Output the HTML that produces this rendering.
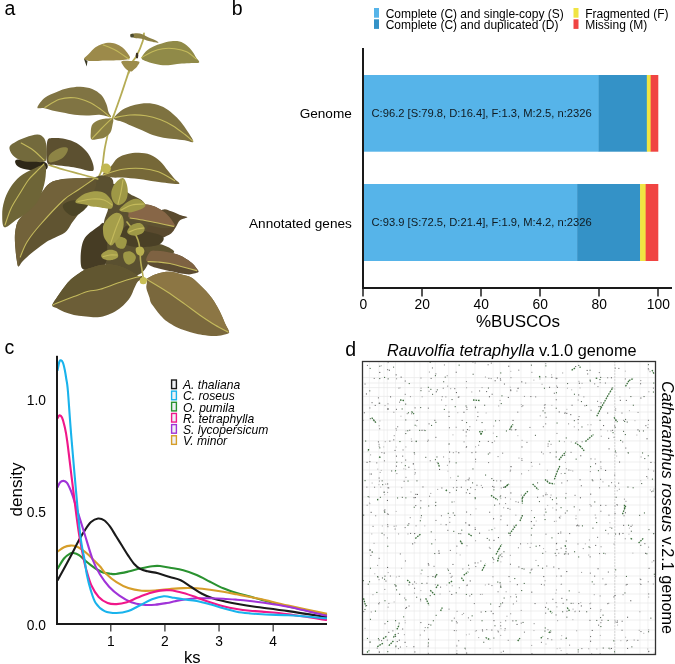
<!DOCTYPE html>
<html><head><meta charset="utf-8"><style>
html,body{margin:0;padding:0;background:#fff;}
svg{display:block;will-change:transform;}
</style></head><body>
<svg width="675" height="664" viewBox="0 0 675 664">
<rect width="675" height="664" fill="#fff"/>
<g id="plant"><g fill="none" stroke="#B5AC55" stroke-width="1.8" stroke-linecap="round"><path d="M144.00,33.30 C143.80,34.58 143.98,37.33 142.80,41.00 C141.62,44.67 138.87,51.47 136.90,55.30 C134.93,59.13 132.38,61.05 131.00,64.00 C129.62,66.95 129.00,71.50 128.60,73.00"/><path d="M130.00,68.00 C129.33,70.00 127.50,75.50 126.00,80.00 C124.50,84.50 123.08,89.00 121.00,95.00 C118.92,101.00 114.75,112.50 113.50,116.00"/><path d="M113.50,116.00 C112.75,118.00 110.00,124.77 109.00,128.00 C108.00,131.23 108.25,131.73 107.50,135.40 C106.75,139.07 105.32,145.10 104.50,150.00 C103.68,154.90 103.18,161.13 102.60,164.80 C102.02,168.47 101.77,169.80 101.00,172.00 C100.23,174.20 98.50,177.00 98.00,178.00"/></g><path d="M100.00,186.00 C102.50,183.67 110.00,182.67 115.00,184.00 C120.00,185.33 125.00,190.67 130.00,194.00 C135.00,197.33 141.33,198.00 145.00,204.00 C148.67,210.00 151.17,221.00 152.00,230.00 C152.83,239.00 152.00,250.67 150.00,258.00 C148.00,265.33 145.00,271.00 140.00,274.00 C135.00,277.00 125.67,277.33 120.00,276.00 C114.33,274.67 108.67,272.00 106.00,266.00 C103.33,260.00 104.33,247.33 104.00,240.00 C103.67,232.67 103.33,227.50 104.00,222.00 C104.67,216.50 108.67,211.00 108.00,207.00 C107.33,203.00 101.33,201.50 100.00,198.00 C98.67,194.50 97.50,188.33 100.00,186.00Z" fill="#5A5030"/><path d="M90.00,181.00 C91.17,179.08 94.33,177.42 97.00,176.50 C99.67,175.58 103.37,174.92 106.00,175.50 C108.63,176.08 111.80,177.58 112.80,180.00 C113.80,182.42 113.47,187.67 112.00,190.00 C110.53,192.33 106.83,193.50 104.00,194.00 C101.17,194.50 97.33,194.00 95.00,193.00 C92.67,192.00 90.83,190.00 90.00,188.00 C89.17,186.00 88.83,182.92 90.00,181.00Z" fill="#5A5030"/><path d="M162.20,209.80 C165.72,208.02 168.13,210.43 171.10,211.30 C174.07,212.17 177.28,214.02 180.00,215.00 C182.72,215.98 187.40,216.33 187.40,217.20 C187.40,218.07 181.97,218.47 180.00,220.20 C178.03,221.93 177.08,225.38 175.60,227.60 C174.12,229.82 173.33,231.77 171.10,233.50 C168.87,235.23 165.40,236.52 162.20,238.00 C159.00,239.48 154.87,242.17 151.90,242.40 C148.93,242.63 144.72,242.80 144.40,239.40 C144.08,236.00 147.03,226.93 150.00,222.00 C152.97,217.07 158.68,211.58 162.20,209.80Z" fill="#5A4A2E"/><path d="M144.40,243.90 C145.78,242.32 152.58,243.08 156.30,243.50 C160.02,243.92 163.73,245.10 166.70,246.40 C169.67,247.70 173.55,249.95 174.10,251.30 C174.65,252.65 172.68,254.05 170.00,254.50 C167.32,254.95 161.67,254.25 158.00,254.00 C154.33,253.75 150.27,254.68 148.00,253.00 C145.73,251.32 143.02,245.48 144.40,243.90Z" fill="#5E5430"/><path d="M126.00,226.00 C129.33,224.33 133.97,228.33 140.00,230.00 C146.03,231.67 158.87,233.67 162.20,236.00 C165.53,238.33 162.87,242.17 160.00,244.00 C157.13,245.83 150.00,246.67 145.00,247.00 C140.00,247.33 134.17,247.17 130.00,246.00 C125.83,244.83 120.67,243.33 120.00,240.00 C119.33,236.67 122.67,227.67 126.00,226.00Z" fill="#4A4026"/><path d="M104.00,223.50 C102.67,221.17 100.60,225.03 99.00,226.00 C97.40,226.97 96.52,227.62 94.40,229.30 C92.28,230.98 88.33,233.62 86.30,236.10 C84.27,238.58 83.15,240.60 82.20,244.20 C81.25,247.80 80.60,253.63 80.60,257.70 C80.60,261.77 80.63,266.55 82.20,268.60 C83.77,270.65 87.03,270.10 90.00,270.00 C92.97,269.90 97.33,269.33 100.00,268.00 C102.67,266.67 104.83,266.67 106.00,262.00 C107.17,257.33 107.33,246.42 107.00,240.00 C106.67,233.58 105.33,225.83 104.00,223.50Z" fill="#463C24"/><path d="M16.00,160.00 C18.00,159.00 25.07,160.08 30.00,160.50 C34.93,160.92 42.93,161.00 45.60,162.50 C48.27,164.00 48.60,168.25 46.00,169.50 C43.40,170.75 34.67,170.50 30.00,170.00 C25.33,169.50 20.33,168.17 18.00,166.50 C15.67,164.83 14.00,161.00 16.00,160.00Z" fill="#2E2818"/><path d="M47.20,141.40 C48.28,137.32 50.72,138.50 53.70,138.10 C56.68,137.70 61.30,138.18 65.10,139.00 C68.90,139.82 72.97,140.97 76.50,143.00 C80.03,145.03 83.72,148.22 86.30,151.20 C88.88,154.18 90.78,157.78 92.00,160.90 C93.22,164.02 94.28,168.27 93.60,169.90 C92.92,171.53 90.47,170.97 87.90,170.70 C85.33,170.43 81.45,168.98 78.20,168.30 C74.95,167.62 72.20,167.15 68.40,166.60 C64.60,166.05 58.93,165.67 55.40,165.00 C51.87,164.33 48.57,166.53 47.20,162.60 C45.83,158.67 46.12,145.48 47.20,141.40Z" fill="#5C5030"/><path d="M94.40,178.20 C91.63,177.08 84.73,178.05 79.50,178.20 C74.27,178.35 67.97,178.27 63.00,179.10 C58.03,179.93 53.30,180.87 49.70,183.20 C46.10,185.53 44.17,189.78 41.40,193.10 C38.63,196.42 36.13,199.50 33.10,203.10 C30.07,206.70 25.78,211.55 23.20,214.70 C20.62,217.85 18.93,219.12 17.60,222.00 C16.27,224.88 15.65,228.88 15.20,232.00 C14.75,235.12 14.85,237.87 14.90,240.70 C14.95,243.53 15.27,246.30 15.50,249.00 C15.73,251.70 15.83,254.00 16.30,256.90 C16.77,259.80 17.35,265.55 18.30,266.40 C19.25,267.25 20.53,263.58 22.00,262.00 C23.47,260.42 25.18,258.65 27.10,256.90 C29.02,255.15 31.23,253.30 33.50,251.50 C35.77,249.70 38.45,247.77 40.70,246.10 C42.95,244.43 44.75,242.87 47.00,241.50 C49.25,240.13 52.03,238.95 54.20,237.90 C56.37,236.85 58.20,236.10 60.00,235.20 C61.80,234.30 63.58,233.62 65.00,232.50 C66.42,231.38 67.37,230.08 68.50,228.50 C69.63,226.92 70.47,224.95 71.80,223.00 C73.13,221.05 74.92,218.83 76.50,216.80 C78.08,214.77 79.60,212.93 81.30,210.80 C83.00,208.67 84.78,206.95 86.70,204.00 C88.62,201.05 91.23,196.28 92.80,193.10 C94.37,189.92 95.83,187.38 96.10,184.90 C96.37,182.42 97.17,179.32 94.40,178.20Z" fill="#605431"/><path d="M94.40,178.20 C91.98,178.07 84.73,178.05 79.50,178.20 C74.27,178.35 67.97,178.27 63.00,179.10 C58.03,179.93 53.30,180.87 49.70,183.20 C46.10,185.53 44.17,189.78 41.40,193.10 C38.63,196.42 36.13,199.50 33.10,203.10 C30.07,206.70 25.78,211.55 23.20,214.70 C20.62,217.85 18.93,219.12 17.60,222.00 C16.27,224.88 15.65,228.88 15.20,232.00 C14.75,235.12 14.85,237.87 14.90,240.70 C14.95,243.53 15.27,246.30 15.50,249.00 C15.73,251.70 15.83,254.00 16.30,256.90 C16.77,259.80 17.63,266.40 18.30,266.40 C18.97,266.40 18.85,260.97 20.30,256.90 C21.75,252.83 23.72,247.32 27.00,242.00 C30.28,236.68 33.88,232.00 40.00,225.00 C46.12,218.00 57.37,205.83 63.70,200.00 C70.03,194.17 72.95,193.50 78.00,190.00 C83.05,186.50 91.27,180.97 94.00,179.00 C96.73,177.03 96.82,178.33 94.40,178.20Z" fill="#72623A"/><path d="M63.00,205.00 C64.00,203.08 68.50,201.17 72.00,200.50 C75.50,199.83 81.25,200.42 84.00,201.00 C86.75,201.58 88.67,202.33 88.50,204.00 C88.33,205.67 85.42,209.00 83.00,211.00 C80.58,213.00 76.83,215.83 74.00,216.00 C71.17,216.17 67.83,213.83 66.00,212.00 C64.17,210.17 62.00,206.92 63.00,205.00Z" fill="#4C4526"/><path d="M44.70,165.00 C46.78,166.25 46.02,172.18 45.60,176.60 C45.18,181.02 43.73,187.08 42.20,191.50 C40.67,195.92 39.02,199.52 36.40,203.10 C33.78,206.68 29.80,210.25 26.50,213.00 C23.20,215.75 20.27,217.22 16.60,219.60 C12.93,221.98 6.90,228.15 4.50,227.30 C2.10,226.45 2.27,218.82 2.20,214.50 C2.13,210.18 2.82,205.78 4.10,201.40 C5.38,197.02 7.27,192.33 9.90,188.20 C12.53,184.07 16.03,179.78 19.90,176.60 C23.77,173.42 28.97,171.03 33.10,169.10 C37.23,167.17 42.62,163.75 44.70,165.00Z" fill="#6E6537"/><path d="M9.80,146.30 C10.75,144.53 13.58,142.90 16.30,141.40 C19.02,139.90 22.57,138.43 26.10,137.30 C29.63,136.17 34.52,134.47 37.50,134.60 C40.48,134.73 42.52,136.15 44.00,138.10 C45.48,140.05 46.00,143.03 46.40,146.30 C46.80,149.57 46.80,155.12 46.40,157.70 C46.00,160.28 46.30,161.12 44.00,161.80 C41.70,162.48 36.13,161.95 32.60,161.80 C29.07,161.65 25.78,161.72 22.80,160.90 C19.82,160.08 16.73,158.38 14.70,156.90 C12.67,155.42 11.42,153.77 10.60,152.00 C9.78,150.23 8.85,148.07 9.80,146.30Z" fill="#736A3C"/><path d="M48.90,156.00 C49.70,154.23 51.53,152.60 53.70,151.20 C55.87,149.80 59.58,148.15 61.90,147.60 C64.22,147.05 66.78,147.03 67.60,147.90 C68.42,148.77 67.75,151.03 66.80,152.80 C65.85,154.57 64.08,157.00 61.90,158.50 C59.72,160.00 55.87,161.25 53.70,161.80 C51.53,162.35 49.70,162.77 48.90,161.80 C48.10,160.83 48.10,157.77 48.90,156.00Z" fill="#8D8445"/><path d="M52.20,305.30 C52.35,303.38 55.48,299.67 57.50,296.60 C59.52,293.53 62.05,289.80 64.30,286.90 C66.55,284.00 68.58,281.45 71.00,279.20 C73.42,276.95 76.38,275.00 78.80,273.40 C81.22,271.80 83.10,270.63 85.50,269.60 C87.90,268.57 90.70,267.97 93.20,267.20 C95.70,266.43 97.68,265.43 100.50,265.00 C103.32,264.57 106.82,264.33 110.10,264.60 C113.38,264.87 117.18,265.68 120.20,266.60 C123.22,267.52 125.68,268.83 128.20,270.10 C130.72,271.37 133.17,272.80 135.30,274.20 C137.43,275.60 140.67,277.17 141.00,278.50 C141.33,279.83 138.42,280.57 137.30,282.20 C136.18,283.83 135.48,285.78 134.30,288.30 C133.12,290.82 132.05,294.45 130.20,297.30 C128.35,300.15 125.72,303.03 123.20,305.40 C120.68,307.77 117.97,309.82 115.10,311.50 C112.23,313.18 108.52,314.58 106.00,315.50 C103.48,316.42 102.13,316.70 100.00,317.00 C97.87,317.30 95.93,317.42 93.20,317.30 C90.47,317.18 86.82,316.70 83.60,316.30 C80.38,315.90 77.12,315.62 73.90,314.90 C70.68,314.18 67.18,313.13 64.30,312.00 C61.42,310.87 58.62,309.22 56.60,308.10 C54.58,306.98 52.05,307.22 52.20,305.30Z" fill="#6C5E37"/><path d="M52.20,305.30 C52.95,303.90 55.48,299.67 57.50,296.60 C59.52,293.53 62.05,289.80 64.30,286.90 C66.55,284.00 68.58,281.45 71.00,279.20 C73.42,276.95 76.38,275.00 78.80,273.40 C81.22,271.80 83.10,270.63 85.50,269.60 C87.90,268.57 90.70,267.97 93.20,267.20 C95.70,266.43 97.68,265.43 100.50,265.00 C103.32,264.57 106.82,264.33 110.10,264.60 C113.38,264.87 117.18,265.68 120.20,266.60 C123.22,267.52 125.68,268.83 128.20,270.10 C130.72,271.37 133.17,272.80 135.30,274.20 C137.43,275.60 140.17,278.17 141.00,278.50 C141.83,278.83 143.77,275.58 140.30,276.20 C136.83,276.82 126.92,280.02 120.20,282.20 C113.48,284.38 105.30,287.78 100.00,289.30 C94.70,290.82 92.75,290.08 88.40,291.30 C84.05,292.52 79.20,294.60 73.90,296.60 C68.60,298.60 60.08,301.90 56.60,303.30 C53.12,304.70 53.73,304.67 53.00,305.00 C52.27,305.33 51.45,306.70 52.20,305.30Z" fill="#615630"/><path d="M146.30,258.70 C146.73,256.57 148.82,252.62 150.60,251.30 C152.38,249.98 154.87,250.80 157.00,250.80 C159.13,250.80 161.07,250.97 163.40,251.30 C165.73,251.63 168.43,252.17 171.00,252.80 C173.57,253.43 176.38,254.15 178.80,255.10 C181.22,256.05 183.37,257.22 185.50,258.50 C187.63,259.78 189.93,261.38 191.60,262.80 C193.27,264.22 194.33,265.50 195.50,267.00 C196.67,268.50 198.85,270.72 198.60,271.80 C198.35,272.88 195.60,273.07 194.00,273.50 C192.40,273.93 191.17,274.40 189.00,274.40 C186.83,274.40 183.57,273.93 181.00,273.50 C178.43,273.07 176.27,272.38 173.60,271.80 C170.93,271.22 167.77,270.63 165.00,270.00 C162.23,269.37 159.25,268.63 157.00,268.00 C154.75,267.37 153.00,266.85 151.50,266.20 C150.00,265.55 148.87,265.35 148.00,264.10 C147.13,262.85 145.87,260.83 146.30,258.70Z" fill="#5C4C32"/><path d="M146.30,258.70 C146.73,256.98 148.82,252.62 150.60,251.30 C152.38,249.98 154.87,250.80 157.00,250.80 C159.13,250.80 161.07,250.97 163.40,251.30 C165.73,251.63 168.43,252.17 171.00,252.80 C173.57,253.43 176.38,254.15 178.80,255.10 C181.22,256.05 183.37,257.22 185.50,258.50 C187.63,259.78 189.93,261.38 191.60,262.80 C193.27,264.22 194.33,265.50 195.50,267.00 C196.67,268.50 198.40,271.20 198.60,271.80 C198.80,272.40 198.97,271.32 196.70,270.60 C194.43,269.88 189.45,268.68 185.00,267.50 C180.55,266.32 174.50,264.42 170.00,263.50 C165.50,262.58 161.67,262.32 158.00,262.00 C154.33,261.68 149.95,262.15 148.00,261.60 C146.05,261.05 145.87,260.42 146.30,258.70Z" fill="#7E6242"/><path d="M146.50,279.00 C147.83,277.75 152.02,275.67 155.00,274.50 C157.98,273.33 161.57,272.42 164.40,272.00 C167.23,271.58 169.40,271.67 172.00,272.00 C174.60,272.33 176.78,273.10 180.00,274.00 C183.22,274.90 188.10,275.70 191.30,277.40 C194.50,279.10 196.75,281.93 199.20,284.20 C201.65,286.47 203.93,288.73 206.00,291.00 C208.07,293.27 209.72,295.17 211.60,297.80 C213.48,300.43 215.60,303.80 217.30,306.80 C219.00,309.80 220.48,312.98 221.80,315.80 C223.12,318.62 223.98,320.97 225.20,323.70 C226.42,326.43 229.48,330.32 229.10,332.20 C228.72,334.08 225.43,334.35 222.90,335.00 C220.37,335.65 217.28,336.10 213.90,336.10 C210.52,336.10 205.88,335.47 202.60,335.00 C199.32,334.53 197.10,334.03 194.20,333.30 C191.30,332.57 188.22,331.65 185.20,330.60 C182.18,329.55 179.12,328.50 176.10,327.00 C173.08,325.50 169.70,323.52 167.10,321.60 C164.50,319.68 162.52,317.68 160.50,315.50 C158.48,313.32 156.62,310.65 155.00,308.50 C153.38,306.35 151.73,304.47 150.80,302.60 C149.87,300.73 150.13,299.68 149.40,297.30 C148.67,294.92 146.80,290.85 146.40,288.30 C146.00,285.75 146.98,283.55 147.00,282.00 C147.02,280.45 145.17,280.25 146.50,279.00Z" fill="#7A683D"/><path d="M146.50,279.00 C147.95,278.23 152.02,275.67 155.00,274.50 C157.98,273.33 161.57,272.42 164.40,272.00 C167.23,271.58 169.40,271.67 172.00,272.00 C174.60,272.33 176.78,273.10 180.00,274.00 C183.22,274.90 188.10,275.70 191.30,277.40 C194.50,279.10 196.75,281.93 199.20,284.20 C201.65,286.47 203.93,288.73 206.00,291.00 C208.07,293.27 209.72,295.17 211.60,297.80 C213.48,300.43 215.60,303.80 217.30,306.80 C219.00,309.80 220.48,312.98 221.80,315.80 C223.12,318.62 223.98,320.97 225.20,323.70 C226.42,326.43 228.63,330.82 229.10,332.20 C229.57,333.58 230.35,333.20 228.00,332.00 C225.65,330.80 219.67,327.80 215.00,325.00 C210.33,322.20 204.97,318.63 200.00,315.20 C195.03,311.77 190.68,308.32 185.20,304.40 C179.72,300.48 173.58,295.92 167.10,291.70 C160.62,287.48 149.73,281.22 146.30,279.10 C142.87,276.98 145.05,279.77 146.50,279.00Z" fill="#8C7644"/><path d="M130.00,209.00 C131.67,207.58 135.70,206.23 138.50,205.50 C141.30,204.77 144.38,204.52 146.80,204.60 C149.22,204.68 150.87,205.27 153.00,206.00 C155.13,206.73 157.60,207.92 159.60,209.00 C161.60,210.08 163.30,211.10 165.00,212.50 C166.70,213.90 168.47,215.82 169.80,217.40 C171.13,218.98 172.13,220.62 173.00,222.00 C173.87,223.38 174.90,224.87 175.00,225.70 C175.10,226.53 175.53,226.57 173.60,227.00 C171.67,227.43 167.23,228.52 163.40,228.30 C159.57,228.08 154.87,226.77 150.60,225.70 C146.33,224.63 141.23,222.97 137.80,221.90 C134.37,220.83 131.55,220.62 130.00,219.30 C128.45,217.98 128.50,215.72 128.50,214.00 C128.50,212.28 128.33,210.42 130.00,209.00Z" fill="#5E5232"/><path d="M130.00,209.00 C131.67,207.58 135.70,206.23 138.50,205.50 C141.30,204.77 144.38,204.52 146.80,204.60 C149.22,204.68 150.87,205.27 153.00,206.00 C155.13,206.73 157.60,207.92 159.60,209.00 C161.60,210.08 163.30,211.10 165.00,212.50 C166.70,213.90 168.47,215.82 169.80,217.40 C171.13,218.98 172.13,220.62 173.00,222.00 C173.87,223.38 174.90,224.97 175.00,225.70 C175.10,226.43 176.10,226.77 173.60,226.40 C171.10,226.03 164.77,224.48 160.00,223.50 C155.23,222.52 149.98,221.42 145.00,220.50 C140.02,219.58 132.85,219.08 130.10,218.00 C127.35,216.92 128.52,215.50 128.50,214.00 C128.48,212.50 128.33,210.42 130.00,209.00Z" fill="#876647"/><path d="M103.00,175.00 C102.03,173.75 105.63,171.48 107.00,170.00 C108.37,168.52 109.42,168.12 111.20,166.10 C112.98,164.08 114.98,159.93 117.70,157.90 C120.42,155.87 123.97,154.77 127.50,153.90 C131.03,153.03 135.10,152.57 138.90,152.70 C142.70,152.83 146.77,153.28 150.30,154.70 C153.83,156.12 157.12,158.48 160.10,161.20 C163.08,163.92 165.77,168.02 168.20,171.00 C170.63,173.98 172.85,176.98 174.70,179.10 C176.55,181.22 180.38,183.02 179.30,183.70 C178.22,184.38 172.22,183.55 168.20,183.20 C164.18,182.85 160.08,182.28 155.20,181.60 C150.32,180.92 144.33,179.78 138.90,179.10 C133.47,178.42 126.95,177.77 122.60,177.50 C118.25,177.23 116.07,177.92 112.80,177.50 C109.53,177.08 103.97,176.25 103.00,175.00Z" fill="#766838"/><path d="M37.40,107.40 C37.65,105.68 41.58,100.38 44.80,97.80 C48.02,95.22 52.75,93.52 56.70,91.90 C60.65,90.28 64.55,88.97 68.50,88.10 C72.45,87.23 76.45,86.57 80.40,86.70 C84.35,86.83 88.75,87.55 92.20,88.90 C95.65,90.25 98.75,92.33 101.10,94.80 C103.45,97.27 105.07,100.85 106.30,103.70 C107.53,106.55 107.77,109.68 108.50,111.90 C109.23,114.12 112.18,116.52 110.70,117.00 C109.22,117.48 103.67,115.03 99.60,114.80 C95.53,114.57 90.50,115.60 86.30,115.60 C82.10,115.60 78.35,115.30 74.40,114.80 C70.45,114.30 66.30,113.33 62.60,112.60 C58.90,111.87 55.42,111.15 52.20,110.40 C48.98,109.65 45.77,108.60 43.30,108.10 C40.83,107.60 37.15,109.12 37.40,107.40Z" fill="#807443"/><path d="M114.00,117.70 C114.90,116.25 118.03,112.90 120.70,111.00 C123.37,109.10 126.67,107.52 130.00,106.30 C133.33,105.08 136.92,104.13 140.70,103.70 C144.48,103.27 148.93,103.15 152.70,103.70 C156.47,104.25 159.97,105.33 163.30,107.00 C166.63,108.67 169.80,111.25 172.70,113.70 C175.60,116.15 178.27,118.82 180.70,121.70 C183.13,124.58 185.20,127.67 187.30,131.00 C189.40,134.33 193.73,140.15 193.30,141.70 C192.87,143.25 187.92,140.75 184.70,140.30 C181.48,139.85 177.57,139.43 174.00,139.00 C170.43,138.57 166.85,138.37 163.30,137.70 C159.75,137.03 156.25,136.23 152.70,135.00 C149.15,133.77 145.57,131.85 142.00,130.30 C138.43,128.75 134.63,127.13 131.30,125.70 C127.97,124.27 124.67,122.70 122.00,121.70 C119.33,120.70 116.63,120.37 115.30,119.70 C113.97,119.03 113.10,119.15 114.00,117.70Z" fill="#7E7240"/><path d="M91.40,139.30 C90.20,138.13 90.73,134.28 90.80,132.00 C90.87,129.72 91.10,127.27 91.80,125.60 C92.50,123.93 93.68,122.97 95.00,122.00 C96.32,121.03 97.87,120.38 99.70,119.80 C101.53,119.22 103.80,118.67 106.00,118.50 C108.20,118.33 111.82,117.72 112.90,118.80 C113.98,119.88 112.92,122.72 112.50,125.00 C112.08,127.28 111.72,130.43 110.40,132.50 C109.08,134.57 106.67,136.32 104.60,137.40 C102.53,138.48 100.20,138.68 98.00,139.00 C95.80,139.32 92.60,140.47 91.40,139.30Z" fill="#8A7F44"/><path d="M130.30,34.50 C130.70,33.72 134.78,33.30 136.90,33.30 C139.02,33.30 141.03,33.80 143.00,34.50 C144.97,35.20 146.57,36.52 148.70,37.50 C150.83,38.48 154.22,39.52 155.80,40.40 C157.38,41.28 159.38,42.70 158.20,42.80 C157.02,42.90 151.47,41.68 148.70,41.00 C145.93,40.32 143.97,39.20 141.60,38.70 C139.23,38.20 136.38,38.70 134.50,38.00 C132.62,37.30 129.90,35.28 130.30,34.50Z" fill="#8C8045"/><path d="M84.00,59.10 C84.00,57.92 87.05,55.72 88.90,53.80 C90.75,51.88 92.88,49.23 95.10,47.60 C97.32,45.97 99.68,44.82 102.20,44.00 C104.72,43.18 107.68,42.63 110.20,42.70 C112.72,42.77 115.07,43.45 117.30,44.40 C119.53,45.35 121.82,46.83 123.60,48.40 C125.38,49.97 126.97,52.17 128.00,53.80 C129.03,55.43 130.68,57.17 129.80,58.20 C128.92,59.23 125.37,59.63 122.70,60.00 C120.03,60.37 116.77,60.33 113.80,60.40 C110.83,60.47 107.87,60.32 104.90,60.40 C101.93,60.48 98.67,60.82 96.00,60.90 C93.33,60.98 90.90,61.20 88.90,60.90 C86.90,60.60 84.00,60.28 84.00,59.10Z" fill="#9C8A4A"/><path d="M141.60,58.20 C141.60,56.52 144.33,53.07 146.30,51.10 C148.27,49.13 150.83,47.68 153.40,46.40 C155.97,45.12 158.73,44.25 161.70,43.40 C164.67,42.55 168.23,41.60 171.20,41.30 C174.17,41.00 176.93,40.95 179.50,41.60 C182.07,42.25 184.42,43.52 186.60,45.20 C188.78,46.88 191.02,49.63 192.60,51.70 C194.18,53.77 195.02,55.82 196.10,57.60 C197.18,59.38 199.88,61.50 199.10,62.40 C198.32,63.30 194.27,62.80 191.40,63.00 C188.53,63.20 185.07,63.32 181.90,63.60 C178.73,63.88 175.57,64.42 172.40,64.70 C169.23,64.98 166.07,65.48 162.90,65.30 C159.73,65.12 156.17,64.28 153.40,63.60 C150.63,62.92 148.27,62.10 146.30,61.20 C144.33,60.30 141.60,59.88 141.60,58.20Z" fill="#908A48"/><path d="M121.80,61.20 C123.05,60.60 127.12,60.83 130.00,60.90 C132.88,60.97 137.85,60.75 139.10,61.60 C140.35,62.45 138.35,64.68 137.50,66.00 C136.65,67.32 135.13,68.57 134.00,69.50 C132.87,70.43 132.03,71.68 130.70,71.60 C129.37,71.52 127.37,70.18 126.00,69.00 C124.63,67.82 123.20,65.80 122.50,64.50 C121.80,63.20 120.55,61.80 121.80,61.20Z" fill="#9C8C4A"/><path d="M127.00,222.00 C128.00,223.33 131.17,227.00 133.00,230.00 C134.83,233.00 136.83,236.67 138.00,240.00 C139.17,243.33 139.58,246.67 140.00,250.00 C140.42,253.33 140.17,256.67 140.50,260.00 C140.83,263.33 141.53,267.00 142.00,270.00 C142.47,273.00 143.08,276.67 143.30,278.00" fill="none" stroke="#B5AC55" stroke-width="1.6" stroke-linecap="round"/><path d="M75.40,202.20 C74.85,200.55 79.90,196.58 82.80,194.80 C85.70,193.02 89.48,191.92 92.80,191.50 C96.12,191.08 100.17,191.55 102.70,192.30 C105.23,193.05 106.32,194.22 108.00,196.00 C109.68,197.78 112.22,200.93 112.80,203.00 C113.38,205.07 112.97,207.57 111.50,208.40 C110.03,209.23 106.02,208.20 104.00,208.00 C101.98,207.80 101.40,207.45 99.40,207.20 C97.40,206.95 94.22,206.92 92.00,206.50 C89.78,206.08 88.87,205.42 86.10,204.70 C83.33,203.98 75.95,203.85 75.40,202.20Z" fill="#A59E4A"/><path d="M123.40,178.30 C124.77,178.98 125.97,181.68 126.70,184.00 C127.43,186.32 127.93,189.48 127.80,192.20 C127.67,194.92 127.32,198.13 125.90,200.30 C124.48,202.47 121.35,204.93 119.30,205.20 C117.25,205.47 114.95,203.80 113.60,201.90 C112.25,200.00 111.20,196.52 111.20,193.80 C111.20,191.08 112.38,187.92 113.60,185.60 C114.82,183.28 116.87,181.12 118.50,179.90 C120.13,178.68 122.03,177.62 123.40,178.30Z" fill="#9E9846"/><path d="M119.30,210.10 C119.03,208.33 124.78,203.80 127.50,201.90 C130.22,200.00 133.15,198.83 135.60,198.70 C138.05,198.57 140.57,199.88 142.20,201.10 C143.83,202.32 145.95,204.50 145.40,206.00 C144.85,207.50 141.62,209.02 138.90,210.10 C136.18,211.18 132.37,212.50 129.10,212.50 C125.83,212.50 119.57,211.87 119.30,210.10Z" fill="#9E9846"/><path d="M114.80,238.00 C115.30,236.25 118.02,236.17 120.00,236.50 C121.98,236.83 126.03,238.03 126.70,240.00 C127.37,241.97 125.62,247.13 124.00,248.30 C122.38,249.47 118.53,248.72 117.00,247.00 C115.47,245.28 114.30,239.75 114.80,238.00Z" fill="#9E9846"/><path d="M103.70,224.60 C104.68,222.37 106.80,219.17 108.90,217.20 C111.00,215.23 114.08,213.05 116.30,212.80 C118.52,212.55 120.97,213.73 122.20,215.70 C123.43,217.67 123.95,221.38 123.70,224.60 C123.45,227.82 122.18,232.03 120.70,235.00 C119.22,237.97 116.52,240.67 114.80,242.40 C113.08,244.13 112.13,246.13 110.40,245.40 C108.67,244.67 105.63,240.47 104.40,238.00 C103.17,235.53 103.12,232.83 103.00,230.60 C102.88,228.37 102.72,226.83 103.70,224.60Z" fill="#A59E4A"/><path d="M127.40,230.60 C128.02,228.98 130.50,225.85 132.60,224.60 C134.70,223.35 138.03,222.60 140.00,223.10 C141.97,223.60 143.90,225.98 144.40,227.60 C144.90,229.22 144.47,231.45 143.00,232.80 C141.53,234.15 137.95,235.45 135.60,235.70 C133.25,235.95 130.27,235.15 128.90,234.30 C127.53,233.45 126.78,232.22 127.40,230.60Z" fill="#9E9846"/><path d="M101.50,254.30 C102.48,252.82 106.43,250.30 108.90,249.80 C111.37,249.30 114.82,250.07 116.30,251.30 C117.78,252.53 118.78,255.72 117.80,257.20 C116.82,258.68 112.87,259.95 110.40,260.20 C107.93,260.45 104.48,259.68 103.00,258.70 C101.52,257.72 100.52,255.78 101.50,254.30Z" fill="#A59E4A"/><path d="M123.70,253.00 C124.70,251.55 128.02,250.80 130.00,251.30 C131.98,251.80 134.93,254.22 135.60,256.00 C136.27,257.78 135.27,260.57 134.00,262.00 C132.73,263.43 129.67,264.93 128.00,264.60 C126.33,264.27 124.72,261.93 124.00,260.00 C123.28,258.07 122.70,254.45 123.70,253.00Z" fill="#9E9846"/><path d="M136.00,248.00 C136.83,246.82 140.60,246.40 142.00,246.90 C143.40,247.40 144.40,249.53 144.40,251.00 C144.40,252.47 143.23,255.20 142.00,255.70 C140.77,256.20 138.00,255.28 137.00,254.00 C136.00,252.72 135.17,249.18 136.00,248.00Z" fill="#B8B050"/><g fill="none" stroke="#C4BA5C" stroke-width="1.1" stroke-linecap="round"><path d="M92.30,138.40 C93.75,136.83 97.82,132.27 101.00,129.00 C104.18,125.73 109.67,120.50 111.40,118.80"/><path d="M78.00,201.50 C80.33,201.08 87.67,199.25 92.00,199.00 C96.33,198.75 100.67,199.00 104.00,200.00 C107.33,201.00 110.67,204.17 112.00,205.00"/><path d="M123.00,180.00 C122.67,182.00 121.83,188.00 121.00,192.00 C120.17,196.00 118.50,202.00 118.00,204.00"/><path d="M121.00,210.00 C122.83,209.17 128.17,206.00 132.00,205.00 C135.83,204.00 142.00,204.17 144.00,204.00"/><path d="M121.00,216.00 C120.17,218.00 117.75,223.33 116.00,228.00 C114.25,232.67 111.42,241.33 110.50,244.00"/><path d="M129.00,232.00 C130.33,231.50 134.50,229.67 137.00,229.00 C139.50,228.33 142.83,228.17 144.00,228.00"/><path d="M103.00,256.50 C104.17,256.25 107.67,255.25 110.00,255.00 C112.33,254.75 115.83,255.00 117.00,255.00"/><path d="M103.10,44.90 C105.18,45.78 111.30,47.83 115.60,50.20 C119.90,52.57 126.68,57.62 128.90,59.10"/><path d="M141.60,57.60 C143.38,56.62 148.75,53.18 152.30,51.70 C155.85,50.22 159.15,49.20 162.90,48.70 C166.65,48.20 170.85,48.20 174.80,48.70 C178.75,49.20 183.05,50.02 186.60,51.70 C190.15,53.38 194.52,57.62 196.10,58.80"/><path d="M44.80,107.40 C47.27,106.05 54.67,100.90 59.60,99.30 C64.53,97.70 69.45,97.32 74.40,97.80 C79.35,98.28 84.85,100.23 89.30,102.20 C93.75,104.17 97.65,107.13 101.10,109.60 C104.55,112.07 108.52,115.77 110.00,117.00"/><path d="M114.00,117.70 C116.67,117.25 124.67,115.33 130.00,115.00 C135.33,114.67 140.88,114.92 146.00,115.70 C151.12,116.48 156.25,118.03 160.70,119.70 C165.15,121.37 168.70,123.27 172.70,125.70 C176.70,128.13 181.37,131.75 184.70,134.30 C188.03,136.85 191.37,139.88 192.70,141.00"/><path d="M103.00,175.00 C106.27,174.05 116.07,170.38 122.60,169.30 C129.13,168.22 136.23,168.08 142.20,168.50 C148.17,168.92 152.98,169.77 158.40,171.80 C163.82,173.83 171.98,179.22 174.70,180.70"/><path d="M44.00,164.00 C42.67,165.33 38.60,169.33 36.00,172.00 C33.40,174.67 31.15,176.33 28.40,180.00 C25.65,183.67 22.40,189.27 19.50,194.00 C16.60,198.73 13.42,203.23 11.00,208.40 C8.58,213.57 6.00,222.23 5.00,225.00"/><path d="M94.00,179.00 C91.33,180.83 83.05,186.50 78.00,190.00 C72.95,193.50 70.03,194.17 63.70,200.00 C57.37,205.83 46.12,218.00 40.00,225.00 C33.88,232.00 30.28,236.68 27.00,242.00 C23.72,247.32 21.42,254.42 20.30,256.90"/><path d="M140.30,276.20 C136.95,277.20 126.92,280.02 120.20,282.20 C113.48,284.38 105.30,287.78 100.00,289.30 C94.70,290.82 92.75,290.08 88.40,291.30 C84.05,292.52 79.20,294.60 73.90,296.60 C68.60,298.60 60.08,301.90 56.60,303.30 C53.12,304.70 53.60,304.72 53.00,305.00"/><path d="M146.30,279.10 C149.77,281.20 160.62,287.48 167.10,291.70 C173.58,295.92 179.72,300.48 185.20,304.40 C190.68,308.32 195.03,311.77 200.00,315.20 C204.97,318.63 210.33,322.20 215.00,325.00 C219.67,327.80 225.83,330.83 228.00,332.00"/><path d="M44.00,160.00 C42.17,158.33 36.80,152.83 33.00,150.00 C29.20,147.17 23.17,144.17 21.20,143.00"/><path d="M130.10,218.00 C132.58,218.42 140.02,219.58 145.00,220.50 C149.98,221.42 155.23,222.52 160.00,223.50 C164.77,224.48 171.33,225.92 173.60,226.40"/><path d="M148.00,261.60 C149.67,261.67 154.33,261.68 158.00,262.00 C161.67,262.32 165.50,262.58 170.00,263.50 C174.50,264.42 180.55,266.32 185.00,267.50 C189.45,268.68 194.75,270.08 196.70,270.60"/></g><g fill="none" stroke="#B5AC55" stroke-width="1.7" stroke-linecap="round"><path d="M97.70,178.90 C94.75,178.08 85.45,175.48 80.00,174.00 C74.55,172.52 70.17,171.50 65.00,170.00 C59.83,168.50 51.67,165.83 49.00,165.00"/></g><circle cx="106" cy="168.5" r="4.9" fill="#C2B852"/><circle cx="143.3" cy="280.7" r="3.6" fill="#C8BE55"/><path d="M84,59 L87.5,61 L86.7,66.5 Z" fill="#3A3A25"/><ellipse cx="137" cy="55.5" rx="1.3" ry="3" fill="#3A3020"/><circle cx="132.1" cy="35.7" r="1.9" fill="#4A4A30"/></g>
<text x="4.5" y="14.7" font-size="19.5" font-family="Liberation Sans, sans-serif">a</text><text x="231.8" y="15" font-size="19.5" font-family="Liberation Sans, sans-serif">b</text><text x="4.6" y="354.3" font-size="19.5" font-family="Liberation Sans, sans-serif">c</text><text x="345.3" y="355.5" font-size="19.5" font-family="Liberation Sans, sans-serif">d</text><rect x="374" y="8" width="5" height="9.7" fill="#56B4E9"/><rect x="374" y="19.3" width="5" height="9.6" fill="#3492C7"/><rect x="573.5" y="8" width="5" height="9.7" fill="#F0E442"/><rect x="573.5" y="19.3" width="5" height="9.6" fill="#F04442"/><text x="385.7" y="17.7" font-size="12" font-family="Liberation Sans, sans-serif">Complete (C) and single-copy (S)</text><text x="385.7" y="28.9" font-size="12" font-family="Liberation Sans, sans-serif">Complete (C) and duplicated (D)</text><text x="585.2" y="17.7" font-size="12" font-family="Liberation Sans, sans-serif">Fragmented (F)</text><text x="585.2" y="28.9" font-size="12" font-family="Liberation Sans, sans-serif">Missing (M)</text><rect x="364.00" y="75" width="234.91" height="76.7" fill="#56B4E9"/><rect x="598.61" y="75" width="48.52" height="76.7" fill="#3492C7"/><rect x="646.83" y="75" width="4.12" height="76.7" fill="#F0E442"/><rect x="650.65" y="75" width="7.65" height="76.7" fill="#F04442"/><text x="351.8" y="118.2" font-size="13.6" text-anchor="end" font-family="Liberation Sans, sans-serif">Genome</text><text x="371.5" y="117.40" font-size="11.2" fill="#101a20" font-family="Liberation Sans, sans-serif">C:96.2 [S:79.8, D:16.4], F:1.3, M:2.5, n:2326</text><rect x="364.00" y="184" width="213.45" height="77" fill="#56B4E9"/><rect x="577.15" y="184" width="63.22" height="77" fill="#3492C7"/><rect x="640.07" y="184" width="5.89" height="77" fill="#F0E442"/><rect x="645.65" y="184" width="12.65" height="77" fill="#F04442"/><text x="351.8" y="227.9" font-size="13.6" text-anchor="end" font-family="Liberation Sans, sans-serif">Annotated genes</text><text x="371.5" y="226.20" font-size="11.2" fill="#101a20" font-family="Liberation Sans, sans-serif">C:93.9 [S:72.5, D:21.4], F:1.9, M:4.2, n:2326</text><rect x="362" y="48" width="2" height="241" fill="#1a1a1a"/><rect x="362" y="287" width="310" height="2" fill="#1a1a1a"/><rect x="362.10" y="289" width="1.8" height="7.5" fill="#444"/><text x="363.30" y="308.8" font-size="13.8" text-anchor="middle" font-family="Liberation Sans, sans-serif">0</text><rect x="421.10" y="289" width="1.8" height="7.5" fill="#444"/><text x="422.30" y="308.8" font-size="13.8" text-anchor="middle" font-family="Liberation Sans, sans-serif">20</text><rect x="480.10" y="289" width="1.8" height="7.5" fill="#444"/><text x="481.30" y="308.8" font-size="13.8" text-anchor="middle" font-family="Liberation Sans, sans-serif">40</text><rect x="539.10" y="289" width="1.8" height="7.5" fill="#444"/><text x="540.30" y="308.8" font-size="13.8" text-anchor="middle" font-family="Liberation Sans, sans-serif">60</text><rect x="598.10" y="289" width="1.8" height="7.5" fill="#444"/><text x="599.30" y="308.8" font-size="13.8" text-anchor="middle" font-family="Liberation Sans, sans-serif">80</text><rect x="657.10" y="289" width="1.8" height="7.5" fill="#444"/><text x="658.30" y="308.8" font-size="13.8" text-anchor="middle" font-family="Liberation Sans, sans-serif">100</text><text x="518" y="326.8" font-size="17" text-anchor="middle" font-family="Liberation Sans, sans-serif">%BUSCOs</text><defs><clipPath id="cclip"><rect x="57" y="340" width="270.5" height="290"/></clipPath></defs><g clip-path="url(#cclip)" fill="none" stroke-width="2.1" stroke-linejoin="round"><path d="M57.50,568.90 C58.58,567.17 61.92,561.05 64.00,558.50 C66.08,555.95 68.40,554.52 70.00,553.60 C71.60,552.68 72.10,552.75 73.60,553.00 C75.10,553.25 77.08,553.85 79.00,555.10 C80.92,556.35 83.08,558.80 85.10,560.50 C87.12,562.20 89.10,563.80 91.10,565.30 C93.10,566.80 95.10,568.30 97.10,569.50 C99.10,570.70 100.95,571.80 103.10,572.50 C105.25,573.20 107.85,573.45 110.00,573.70 C112.15,573.95 112.97,574.35 116.00,574.00 C119.03,573.65 124.17,572.50 128.20,571.60 C132.23,570.70 136.18,569.50 140.20,568.60 C144.22,567.70 149.00,566.63 152.30,566.20 C155.60,565.77 157.05,565.75 160.00,566.00 C162.95,566.25 166.12,566.98 170.00,567.70 C173.88,568.42 178.85,569.08 183.30,570.30 C187.75,571.52 192.25,573.10 196.70,575.00 C201.15,576.90 205.57,579.48 210.00,581.70 C214.43,583.92 218.85,586.42 223.30,588.30 C227.75,590.18 232.25,591.62 236.70,593.00 C241.15,594.38 245.78,595.43 250.00,596.60 C254.22,597.77 255.62,598.33 262.00,600.00 C268.38,601.67 277.47,604.10 288.30,606.60 C299.13,609.10 320.55,613.60 327.00,615.00" stroke="#2A9230"/><path d="M57.50,551.70 C58.58,550.95 61.83,548.22 64.00,547.20 C66.17,546.18 68.50,545.75 70.50,545.60 C72.50,545.45 74.08,545.63 76.00,546.30 C77.92,546.97 79.98,548.23 82.00,549.60 C84.02,550.97 86.08,552.68 88.10,554.50 C90.12,556.32 92.10,558.50 94.10,560.50 C96.10,562.50 98.20,564.38 100.10,566.50 C102.00,568.62 102.77,570.58 105.50,573.20 C108.23,575.82 112.70,579.72 116.50,582.20 C120.30,584.68 124.10,586.68 128.30,588.10 C132.50,589.52 137.00,590.32 141.70,590.70 C146.40,591.08 151.78,590.68 156.50,590.40 C161.22,590.12 165.53,589.38 170.00,589.00 C174.47,588.62 178.85,588.22 183.30,588.10 C187.75,587.98 192.25,588.03 196.70,588.30 C201.15,588.57 205.57,589.13 210.00,589.70 C214.43,590.27 218.85,590.93 223.30,591.70 C227.75,592.47 232.25,593.42 236.70,594.30 C241.15,595.18 245.78,596.17 250.00,597.00 C254.22,597.83 255.62,597.87 262.00,599.30 C268.38,600.73 277.47,603.17 288.30,605.60 C299.13,608.03 320.55,612.52 327.00,613.90" stroke="#D69E2A"/><path d="M57.50,580.60 C59.58,576.75 66.42,564.27 70.00,557.50 C73.58,550.73 76.53,544.53 79.00,540.00 C81.47,535.47 82.80,533.30 84.80,530.30 C86.80,527.30 88.78,523.97 91.00,522.00 C93.22,520.03 95.85,518.75 98.10,518.50 C100.35,518.25 102.50,519.13 104.50,520.50 C106.50,521.87 108.17,524.07 110.10,526.70 C112.03,529.33 114.08,533.08 116.10,536.30 C118.12,539.52 120.18,542.78 122.20,546.00 C124.22,549.22 126.20,552.60 128.20,555.60 C130.20,558.60 132.20,561.78 134.20,564.00 C136.20,566.22 137.98,567.68 140.20,568.90 C142.42,570.12 144.53,570.57 147.50,571.30 C150.47,572.03 154.28,572.35 158.00,573.30 C161.72,574.25 166.02,575.83 169.80,577.00 C173.58,578.17 177.12,578.63 180.70,580.30 C184.28,581.97 187.75,584.77 191.30,587.00 C194.85,589.23 198.43,591.82 202.00,593.70 C205.57,595.58 208.70,596.97 212.70,598.30 C216.70,599.63 221.57,600.70 226.00,601.70 C230.43,602.70 234.47,603.47 239.30,604.30 C244.13,605.13 246.83,605.57 255.00,606.70 C263.17,607.83 276.30,609.35 288.30,611.10 C300.30,612.85 320.55,616.18 327.00,617.20" stroke="#1a1a1a"/><path d="M57.50,487.40 C57.92,486.58 59.00,483.58 60.00,482.50 C61.00,481.42 62.33,480.85 63.50,480.90 C64.67,480.95 65.75,481.12 67.00,482.80 C68.25,484.48 69.78,487.97 71.00,491.00 C72.22,494.03 72.23,494.50 74.30,501.00 C76.37,507.50 80.32,520.17 83.40,530.00 C86.48,539.83 90.00,552.53 92.80,560.00 C95.60,567.47 97.48,570.35 100.20,574.80 C102.92,579.25 105.90,583.23 109.10,586.70 C112.30,590.17 115.70,593.02 119.40,595.60 C123.10,598.18 127.35,600.68 131.30,602.20 C135.25,603.72 139.15,604.28 143.10,604.70 C147.05,605.12 151.03,604.98 155.00,604.70 C158.97,604.42 163.57,603.58 166.90,603.00 C170.23,602.42 172.27,601.75 175.00,601.20 C177.73,600.65 179.68,600.18 183.30,599.70 C186.92,599.22 192.25,598.53 196.70,598.30 C201.15,598.07 205.57,598.23 210.00,598.30 C214.43,598.37 218.85,598.47 223.30,598.70 C227.75,598.93 232.25,599.32 236.70,599.70 C241.15,600.08 245.78,600.53 250.00,601.00 C254.22,601.47 255.62,601.55 262.00,602.50 C268.38,603.45 277.47,604.48 288.30,606.70 C299.13,608.92 320.55,614.28 327.00,615.80" stroke="#A033D8"/><path d="M57.50,418.40 C57.83,417.90 58.75,415.55 59.50,415.40 C60.25,415.25 61.17,415.73 62.00,417.50 C62.83,419.27 63.63,422.08 64.50,426.00 C65.37,429.92 65.85,431.17 67.20,441.00 C68.55,450.83 70.73,470.17 72.60,485.00 C74.47,499.83 76.52,517.50 78.40,530.00 C80.28,542.50 82.48,553.02 83.90,560.00 C85.32,566.98 85.67,567.70 86.90,571.90 C88.13,576.10 89.33,581.02 91.30,585.20 C93.27,589.38 95.98,594.03 98.70,597.00 C101.42,599.97 104.63,601.82 107.60,603.00 C110.57,604.18 113.28,604.23 116.50,604.10 C119.72,603.97 123.45,603.25 126.90,602.20 C130.35,601.15 133.50,599.28 137.20,597.80 C140.90,596.32 145.30,594.50 149.10,593.30 C152.90,592.10 156.52,591.10 160.00,590.60 C163.48,590.10 166.12,589.90 170.00,590.30 C173.88,590.70 178.85,591.82 183.30,593.00 C187.75,594.18 192.25,595.85 196.70,597.40 C201.15,598.95 205.57,600.82 210.00,602.30 C214.43,603.78 218.85,605.18 223.30,606.30 C227.75,607.42 232.25,608.27 236.70,609.00 C241.15,609.73 245.78,610.27 250.00,610.70 C254.22,611.13 255.62,611.02 262.00,611.60 C268.38,612.18 277.47,612.80 288.30,614.20 C299.13,615.60 320.55,619.03 327.00,620.00" stroke="#F0178A"/><path d="M57.50,370.70 C57.82,369.18 58.83,363.33 59.40,361.60 C59.97,359.87 60.30,360.10 60.90,360.30 C61.50,360.50 62.35,361.18 63.00,362.80 C63.65,364.42 64.25,367.30 64.80,370.00 C65.35,372.70 65.78,375.50 66.30,379.00 C66.82,382.50 67.02,380.83 67.90,391.00 C68.78,401.17 69.63,416.83 71.60,440.00 C73.57,463.17 77.53,510.00 79.70,530.00 C81.87,550.00 83.40,552.53 84.60,560.00 C85.80,567.47 85.90,569.87 86.90,574.80 C87.90,579.73 89.13,584.90 90.60,589.60 C92.07,594.30 93.37,599.42 95.70,603.00 C98.03,606.58 101.13,609.43 104.60,611.10 C108.07,612.77 112.55,613.00 116.50,613.00 C120.45,613.00 124.35,612.40 128.30,611.10 C132.25,609.80 136.25,607.17 140.20,605.20 C144.15,603.23 148.05,600.78 152.00,599.30 C155.95,597.82 160.23,596.55 163.90,596.30 C167.57,596.05 170.77,597.30 174.00,597.80 C177.23,598.30 179.52,598.77 183.30,599.30 C187.08,599.83 192.25,600.17 196.70,601.00 C201.15,601.83 205.57,603.08 210.00,604.30 C214.43,605.52 218.85,607.07 223.30,608.30 C227.75,609.53 232.25,610.85 236.70,611.70 C241.15,612.55 245.78,612.97 250.00,613.40 C254.22,613.83 255.62,613.98 262.00,614.30 C268.38,614.62 277.47,614.63 288.30,615.30 C299.13,615.97 320.55,617.80 327.00,618.30" stroke="#19B3EC"/></g><rect x="56" y="355.8" width="2" height="269.2" fill="#1a1a1a"/><rect x="56" y="623" width="271" height="2" fill="#1a1a1a"/><rect x="110.00" y="625" width="1.5" height="6.5" fill="#555"/><text x="110.75" y="645.6" font-size="13.8" text-anchor="middle" font-family="Liberation Sans, sans-serif">1</text><rect x="164.15" y="625" width="1.5" height="6.5" fill="#555"/><text x="164.90" y="645.6" font-size="13.8" text-anchor="middle" font-family="Liberation Sans, sans-serif">2</text><rect x="218.30" y="625" width="1.5" height="6.5" fill="#555"/><text x="219.05" y="645.6" font-size="13.8" text-anchor="middle" font-family="Liberation Sans, sans-serif">3</text><rect x="272.45" y="625" width="1.5" height="6.5" fill="#555"/><text x="273.20" y="645.6" font-size="13.8" text-anchor="middle" font-family="Liberation Sans, sans-serif">4</text><text x="46" y="629.6" font-size="13.8" text-anchor="end" font-family="Liberation Sans, sans-serif">0.0</text><text x="46" y="517.1" font-size="13.8" text-anchor="end" font-family="Liberation Sans, sans-serif">0.5</text><text x="46" y="405.4" font-size="13.8" text-anchor="end" font-family="Liberation Sans, sans-serif">1.0</text><text x="192.2" y="663.2" font-size="16.6" text-anchor="middle" font-family="Liberation Sans, sans-serif">ks</text><text transform="translate(21.6,489.5) rotate(-90)" font-size="17" text-anchor="middle" font-family="Liberation Sans, sans-serif">density</text><rect x="171.6" y="380.00" width="4.8" height="8.6" fill="#eef0f4" stroke="#1a1a1a" stroke-width="1.4"/><text x="183" y="389.20" font-size="12.1" font-style="italic" font-family="Liberation Sans, sans-serif">A. thaliana</text><rect x="171.6" y="391.15" width="4.8" height="8.6" fill="#eef0f4" stroke="#19B3EC" stroke-width="1.4"/><text x="183" y="400.35" font-size="12.1" font-style="italic" font-family="Liberation Sans, sans-serif">C. roseus</text><rect x="171.6" y="402.30" width="4.8" height="8.6" fill="#eef0f4" stroke="#2A9230" stroke-width="1.4"/><text x="183" y="411.50" font-size="12.1" font-style="italic" font-family="Liberation Sans, sans-serif">O. pumila</text><rect x="171.6" y="413.45" width="4.8" height="8.6" fill="#eef0f4" stroke="#F0178A" stroke-width="1.4"/><text x="183" y="422.65" font-size="12.1" font-style="italic" font-family="Liberation Sans, sans-serif">R. tetraphylla</text><rect x="171.6" y="424.60" width="4.8" height="8.6" fill="#eef0f4" stroke="#A033D8" stroke-width="1.4"/><text x="183" y="433.80" font-size="12.1" font-style="italic" font-family="Liberation Sans, sans-serif">S. lycopersicum</text><rect x="171.6" y="435.75" width="4.8" height="8.6" fill="#eef0f4" stroke="#D69E2A" stroke-width="1.4"/><text x="183" y="444.95" font-size="12.1" font-style="italic" font-family="Liberation Sans, sans-serif">V. minor</text><defs><clipPath id="dclip"><rect x="363" y="362" width="292" height="292"/></clipPath></defs><g clip-path="url(#dclip)"><line x1="369.4" y1="361.5" x2="369.4" y2="654.5" stroke="#ececec" stroke-width="0.7"/><line x1="378.9" y1="361.5" x2="378.9" y2="654.5" stroke="#ececec" stroke-width="0.7"/><line x1="384" y1="361.5" x2="384" y2="654.5" stroke="#ececec" stroke-width="0.7"/><line x1="387.3" y1="361.5" x2="387.3" y2="654.5" stroke="#ececec" stroke-width="0.7"/><line x1="395.5" y1="361.5" x2="395.5" y2="654.5" stroke="#ececec" stroke-width="0.7"/><line x1="405" y1="361.5" x2="405" y2="654.5" stroke="#ececec" stroke-width="0.7"/><line x1="414.2" y1="361.5" x2="414.2" y2="654.5" stroke="#ececec" stroke-width="0.7"/><line x1="420" y1="361.5" x2="420" y2="654.5" stroke="#ececec" stroke-width="0.7"/><line x1="428" y1="361.5" x2="428" y2="654.5" stroke="#ececec" stroke-width="0.7"/><line x1="435.3" y1="361.5" x2="435.3" y2="654.5" stroke="#ececec" stroke-width="0.7"/><line x1="448.7" y1="361.5" x2="448.7" y2="654.5" stroke="#ececec" stroke-width="0.7"/><line x1="456" y1="361.5" x2="456" y2="654.5" stroke="#ececec" stroke-width="0.7"/><line x1="466" y1="361.5" x2="466" y2="654.5" stroke="#ececec" stroke-width="0.7"/><line x1="475" y1="361.5" x2="475" y2="654.5" stroke="#ececec" stroke-width="0.7"/><line x1="493.1" y1="361.5" x2="493.1" y2="654.5" stroke="#ececec" stroke-width="0.7"/><line x1="500" y1="361.5" x2="500" y2="654.5" stroke="#ececec" stroke-width="0.7"/><line x1="510" y1="361.5" x2="510" y2="654.5" stroke="#ececec" stroke-width="0.7"/><line x1="521" y1="361.5" x2="521" y2="654.5" stroke="#ececec" stroke-width="0.7"/><line x1="531" y1="361.5" x2="531" y2="654.5" stroke="#ececec" stroke-width="0.7"/><line x1="545" y1="361.5" x2="545" y2="654.5" stroke="#ececec" stroke-width="0.7"/><line x1="556" y1="361.5" x2="556" y2="654.5" stroke="#ececec" stroke-width="0.7"/><line x1="566" y1="361.5" x2="566" y2="654.5" stroke="#ececec" stroke-width="0.7"/><line x1="578" y1="361.5" x2="578" y2="654.5" stroke="#ececec" stroke-width="0.7"/><line x1="590" y1="361.5" x2="590" y2="654.5" stroke="#ececec" stroke-width="0.7"/><line x1="600" y1="361.5" x2="600" y2="654.5" stroke="#ececec" stroke-width="0.7"/><line x1="614.8" y1="361.5" x2="614.8" y2="654.5" stroke="#ececec" stroke-width="0.7"/><line x1="625" y1="361.5" x2="625" y2="654.5" stroke="#ececec" stroke-width="0.7"/><line x1="640" y1="361.5" x2="640" y2="654.5" stroke="#ececec" stroke-width="0.7"/><line x1="648" y1="361.5" x2="648" y2="654.5" stroke="#ececec" stroke-width="0.7"/><line x1="362.5" y1="377.6" x2="655.5" y2="377.6" stroke="#e8e8e8" stroke-width="0.7"/><line x1="362.5" y1="383" x2="655.5" y2="383" stroke="#e8e8e8" stroke-width="0.7"/><line x1="362.5" y1="387.6" x2="655.5" y2="387.6" stroke="#e8e8e8" stroke-width="0.7"/><line x1="362.5" y1="396.4" x2="655.5" y2="396.4" stroke="#e8e8e8" stroke-width="0.7"/><line x1="362.5" y1="405" x2="655.5" y2="405" stroke="#e8e8e8" stroke-width="0.7"/><line x1="362.5" y1="412" x2="655.5" y2="412" stroke="#e8e8e8" stroke-width="0.7"/><line x1="362.5" y1="420" x2="655.5" y2="420" stroke="#e8e8e8" stroke-width="0.7"/><line x1="362.5" y1="430" x2="655.5" y2="430" stroke="#e8e8e8" stroke-width="0.7"/><line x1="362.5" y1="440.9" x2="655.5" y2="440.9" stroke="#e8e8e8" stroke-width="0.7"/><line x1="362.5" y1="452" x2="655.5" y2="452" stroke="#e8e8e8" stroke-width="0.7"/><line x1="362.5" y1="462" x2="655.5" y2="462" stroke="#e8e8e8" stroke-width="0.7"/><line x1="362.5" y1="470" x2="655.5" y2="470" stroke="#e8e8e8" stroke-width="0.7"/><line x1="362.5" y1="480" x2="655.5" y2="480" stroke="#e8e8e8" stroke-width="0.7"/><line x1="362.5" y1="487" x2="655.5" y2="487" stroke="#e8e8e8" stroke-width="0.7"/><line x1="362.5" y1="497" x2="655.5" y2="497" stroke="#e8e8e8" stroke-width="0.7"/><line x1="362.5" y1="505" x2="655.5" y2="505" stroke="#e8e8e8" stroke-width="0.7"/><line x1="362.5" y1="515" x2="655.5" y2="515" stroke="#e8e8e8" stroke-width="0.7"/><line x1="362.5" y1="525" x2="655.5" y2="525" stroke="#e8e8e8" stroke-width="0.7"/><line x1="362.5" y1="533" x2="655.5" y2="533" stroke="#e8e8e8" stroke-width="0.7"/><line x1="362.5" y1="543" x2="655.5" y2="543" stroke="#e8e8e8" stroke-width="0.7"/><line x1="362.5" y1="553" x2="655.5" y2="553" stroke="#e8e8e8" stroke-width="0.7"/><line x1="362.5" y1="568" x2="655.5" y2="568" stroke="#e8e8e8" stroke-width="0.7"/><line x1="362.5" y1="576" x2="655.5" y2="576" stroke="#e8e8e8" stroke-width="0.7"/><line x1="362.5" y1="584" x2="655.5" y2="584" stroke="#e8e8e8" stroke-width="0.7"/><line x1="362.5" y1="594" x2="655.5" y2="594" stroke="#e8e8e8" stroke-width="0.7"/><line x1="362.5" y1="603" x2="655.5" y2="603" stroke="#e8e8e8" stroke-width="0.7"/><line x1="362.5" y1="611" x2="655.5" y2="611" stroke="#e8e8e8" stroke-width="0.7"/><line x1="362.5" y1="620" x2="655.5" y2="620" stroke="#e8e8e8" stroke-width="0.7"/><line x1="362.5" y1="630" x2="655.5" y2="630" stroke="#e8e8e8" stroke-width="0.7"/><line x1="362.5" y1="640" x2="655.5" y2="640" stroke="#e8e8e8" stroke-width="0.7"/><line x1="362.5" y1="648" x2="655.5" y2="648" stroke="#e8e8e8" stroke-width="0.7"/><line x1="614.8" y1="361.5" x2="614.8" y2="654.5" stroke="#b8b8b8" stroke-width="1" stroke-dasharray="1,2"/><rect x="555.5" y="602.1" width="1.1" height="1.1" fill="#888"/><rect x="509.7" y="386.7" width="1.1" height="1.1" fill="#bbb"/><rect x="474.6" y="527.2" width="1.1" height="1.1" fill="#999"/><rect x="533.3" y="379.6" width="1.1" height="1.1" fill="#bbb"/><rect x="521.4" y="446.4" width="1.1" height="1.1" fill="#666"/><rect x="415.5" y="525.3" width="1.1" height="1.1" fill="#999"/><rect x="543.9" y="387.7" width="1.1" height="1.1" fill="#4f6f4f"/><rect x="487.8" y="453.5" width="1.1" height="1.1" fill="#4f6f4f"/><rect x="405.2" y="433.0" width="1.1" height="1.1" fill="#5d6d5d"/><rect x="540.9" y="583.9" width="1.1" height="1.1" fill="#888"/><rect x="599.8" y="634.9" width="1.1" height="1.1" fill="#bbb"/><rect x="593.7" y="594.1" width="1.1" height="1.1" fill="#aaa"/><rect x="500.1" y="495.2" width="1.1" height="1.1" fill="#888"/><rect x="501.4" y="556.1" width="1.1" height="1.1" fill="#777"/><rect x="453.2" y="530.8" width="1.1" height="1.1" fill="#4f6f4f"/><rect x="565.8" y="637.1" width="1.1" height="1.1" fill="#aaa"/><rect x="378.6" y="445.7" width="1.1" height="1.1" fill="#999"/><rect x="494.1" y="504.6" width="1.1" height="1.1" fill="#5d6d5d"/><rect x="602.5" y="614.6" width="1.1" height="1.1" fill="#5d6d5d"/><rect x="651.5" y="561.5" width="1.1" height="1.1" fill="#bbb"/><rect x="406.7" y="413.1" width="1.1" height="1.1" fill="#999"/><rect x="366.0" y="605.0" width="1.1" height="1.1" fill="#666"/><rect x="475.0" y="540.2" width="1.1" height="1.1" fill="#aaa"/><rect x="564.8" y="512.5" width="1.1" height="1.1" fill="#777"/><rect x="596.3" y="648.4" width="1.1" height="1.1" fill="#bbb"/><rect x="500.1" y="379.7" width="1.1" height="1.1" fill="#888"/><rect x="491.6" y="393.7" width="1.1" height="1.1" fill="#777"/><rect x="469.0" y="524.6" width="1.1" height="1.1" fill="#777"/><rect x="465.6" y="435.4" width="1.1" height="1.1" fill="#aaa"/><rect x="501.4" y="395.3" width="1.1" height="1.1" fill="#4f6f4f"/><rect x="499.0" y="503.3" width="1.1" height="1.1" fill="#888"/><rect x="605.4" y="583.8" width="1.1" height="1.1" fill="#666"/><rect x="509.9" y="563.7" width="1.1" height="1.1" fill="#777"/><rect x="449.8" y="549.9" width="1.1" height="1.1" fill="#888"/><rect x="439.0" y="468.9" width="1.1" height="1.1" fill="#666"/><rect x="521.3" y="458.1" width="1.1" height="1.1" fill="#999"/><rect x="593.5" y="583.7" width="1.1" height="1.1" fill="#999"/><rect x="602.3" y="578.3" width="1.1" height="1.1" fill="#999"/><rect x="589.5" y="369.7" width="1.1" height="1.1" fill="#5d6d5d"/><rect x="545.5" y="492.5" width="1.1" height="1.1" fill="#aaa"/><rect x="469.3" y="426.1" width="1.1" height="1.1" fill="#999"/><rect x="500.1" y="625.3" width="1.1" height="1.1" fill="#777"/><rect x="607.1" y="603.1" width="1.1" height="1.1" fill="#888"/><rect x="591.7" y="581.3" width="1.1" height="1.1" fill="#4f6f4f"/><rect x="489.6" y="547.8" width="1.1" height="1.1" fill="#888"/><rect x="647.2" y="477.5" width="1.1" height="1.1" fill="#bbb"/><rect x="387.4" y="408.0" width="1.1" height="1.1" fill="#666"/><rect x="405.3" y="497.3" width="1.1" height="1.1" fill="#4f6f4f"/><rect x="465.2" y="522.3" width="1.1" height="1.1" fill="#666"/><rect x="516.8" y="584.1" width="1.1" height="1.1" fill="#666"/><rect x="370.7" y="611.4" width="1.1" height="1.1" fill="#999"/><rect x="530.8" y="521.0" width="1.1" height="1.1" fill="#666"/><rect x="533.4" y="630.0" width="1.1" height="1.1" fill="#bbb"/><rect x="619.8" y="399.8" width="1.1" height="1.1" fill="#666"/><rect x="493.4" y="539.8" width="1.1" height="1.1" fill="#666"/><rect x="589.6" y="379.6" width="1.1" height="1.1" fill="#4f6f4f"/><rect x="393.6" y="525.7" width="1.1" height="1.1" fill="#999"/><rect x="387.3" y="526.1" width="1.1" height="1.1" fill="#888"/><rect x="420.9" y="515.1" width="1.1" height="1.1" fill="#5d6d5d"/><rect x="435.1" y="505.0" width="1.1" height="1.1" fill="#5d6d5d"/><rect x="624.1" y="420.9" width="1.1" height="1.1" fill="#4f6f4f"/><rect x="492.9" y="558.1" width="1.1" height="1.1" fill="#bbb"/><rect x="590.1" y="602.6" width="1.1" height="1.1" fill="#aaa"/><rect x="581.3" y="648.0" width="1.1" height="1.1" fill="#888"/><rect x="566.3" y="408.8" width="1.1" height="1.1" fill="#bbb"/><rect x="480.8" y="484.9" width="1.1" height="1.1" fill="#aaa"/><rect x="496.9" y="377.4" width="1.1" height="1.1" fill="#777"/><rect x="381.3" y="452.0" width="1.1" height="1.1" fill="#999"/><rect x="393.2" y="439.3" width="1.1" height="1.1" fill="#777"/><rect x="415.7" y="582.9" width="1.1" height="1.1" fill="#bbb"/><rect x="560.6" y="638.7" width="1.1" height="1.1" fill="#bbb"/><rect x="458.3" y="533.0" width="1.1" height="1.1" fill="#5d6d5d"/><rect x="441.3" y="487.4" width="1.1" height="1.1" fill="#777"/><rect x="597.4" y="386.0" width="1.1" height="1.1" fill="#999"/><rect x="653.8" y="496.5" width="1.1" height="1.1" fill="#bbb"/><rect x="441.0" y="399.4" width="1.1" height="1.1" fill="#999"/><rect x="646.5" y="438.2" width="1.1" height="1.1" fill="#666"/><rect x="435.3" y="421.8" width="1.1" height="1.1" fill="#4f6f4f"/><rect x="456.3" y="652.9" width="1.1" height="1.1" fill="#777"/><rect x="513.2" y="525.5" width="1.1" height="1.1" fill="#999"/><rect x="393.6" y="601.4" width="1.1" height="1.1" fill="#bbb"/><rect x="522.5" y="621.9" width="1.1" height="1.1" fill="#5d6d5d"/><rect x="650.4" y="461.9" width="1.1" height="1.1" fill="#666"/><rect x="379.2" y="365.7" width="1.1" height="1.1" fill="#5d6d5d"/><rect x="566.3" y="616.6" width="1.1" height="1.1" fill="#5d6d5d"/><rect x="408.7" y="383.0" width="1.1" height="1.1" fill="#4f6f4f"/><rect x="449.2" y="521.8" width="1.1" height="1.1" fill="#999"/><rect x="362.8" y="419.9" width="1.1" height="1.1" fill="#bbb"/><rect x="555.7" y="509.4" width="1.1" height="1.1" fill="#777"/><rect x="374.7" y="404.9" width="1.1" height="1.1" fill="#777"/><rect x="517.6" y="387.7" width="1.1" height="1.1" fill="#666"/><rect x="572.3" y="619.1" width="1.1" height="1.1" fill="#bbb"/><rect x="573.7" y="506.3" width="1.1" height="1.1" fill="#5d6d5d"/><rect x="551.0" y="374.3" width="1.1" height="1.1" fill="#bbb"/><rect x="600.5" y="402.3" width="1.1" height="1.1" fill="#777"/><rect x="533.6" y="623.1" width="1.1" height="1.1" fill="#999"/><rect x="555.9" y="392.2" width="1.1" height="1.1" fill="#4f6f4f"/><rect x="434.2" y="553.0" width="1.1" height="1.1" fill="#5d6d5d"/><rect x="625.6" y="584.4" width="1.1" height="1.1" fill="#888"/><rect x="381.9" y="577.4" width="1.1" height="1.1" fill="#5d6d5d"/><rect x="610.4" y="430.3" width="1.1" height="1.1" fill="#999"/><rect x="474.6" y="497.0" width="1.1" height="1.1" fill="#4f6f4f"/><rect x="446.7" y="375.2" width="1.1" height="1.1" fill="#999"/><rect x="428.2" y="564.5" width="1.1" height="1.1" fill="#666"/><rect x="428.5" y="390.7" width="1.1" height="1.1" fill="#999"/><rect x="447.7" y="512.8" width="1.1" height="1.1" fill="#4f6f4f"/><rect x="453.8" y="630.0" width="1.1" height="1.1" fill="#888"/><rect x="367.6" y="496.0" width="1.1" height="1.1" fill="#4f6f4f"/><rect x="475.8" y="630.1" width="1.1" height="1.1" fill="#999"/><rect x="590.0" y="640.7" width="1.1" height="1.1" fill="#666"/><rect x="547.6" y="443.4" width="1.1" height="1.1" fill="#888"/><rect x="430.3" y="624.5" width="1.1" height="1.1" fill="#4f6f4f"/><rect x="500.2" y="480.3" width="1.1" height="1.1" fill="#666"/><rect x="387.6" y="362.0" width="1.1" height="1.1" fill="#aaa"/><rect x="397.7" y="632.9" width="1.1" height="1.1" fill="#777"/><rect x="447.4" y="470.6" width="1.1" height="1.1" fill="#bbb"/><rect x="487.9" y="387.5" width="1.1" height="1.1" fill="#5d6d5d"/><rect x="444.7" y="376.6" width="1.1" height="1.1" fill="#5d6d5d"/><rect x="406.1" y="646.0" width="1.1" height="1.1" fill="#bbb"/><rect x="456.3" y="486.8" width="1.1" height="1.1" fill="#777"/><rect x="547.4" y="629.1" width="1.1" height="1.1" fill="#999"/><rect x="377.0" y="576.1" width="1.1" height="1.1" fill="#4f6f4f"/><rect x="403.1" y="616.3" width="1.1" height="1.1" fill="#4f6f4f"/><rect x="484.1" y="404.7" width="1.1" height="1.1" fill="#5d6d5d"/><rect x="554.7" y="552.8" width="1.1" height="1.1" fill="#5d6d5d"/><rect x="409.9" y="396.1" width="1.1" height="1.1" fill="#999"/><rect x="628.0" y="524.7" width="1.1" height="1.1" fill="#4f6f4f"/><rect x="462.7" y="429.6" width="1.1" height="1.1" fill="#888"/><rect x="614.9" y="621.5" width="1.1" height="1.1" fill="#bbb"/><rect x="461.6" y="419.9" width="1.1" height="1.1" fill="#777"/><rect x="510.0" y="469.6" width="1.1" height="1.1" fill="#999"/><rect x="493.1" y="479.9" width="1.1" height="1.1" fill="#5d6d5d"/><rect x="618.3" y="367.9" width="1.1" height="1.1" fill="#777"/><rect x="534.5" y="603.0" width="1.1" height="1.1" fill="#777"/><rect x="613.2" y="640.3" width="1.1" height="1.1" fill="#4f6f4f"/><rect x="395.2" y="646.3" width="1.1" height="1.1" fill="#888"/><rect x="574.0" y="551.2" width="1.1" height="1.1" fill="#4f6f4f"/><rect x="430.6" y="377.9" width="1.1" height="1.1" fill="#777"/><rect x="451.5" y="399.0" width="1.1" height="1.1" fill="#5d6d5d"/><rect x="599.6" y="382.1" width="1.1" height="1.1" fill="#999"/><rect x="544.5" y="519.0" width="1.1" height="1.1" fill="#4f6f4f"/><rect x="625.4" y="500.8" width="1.1" height="1.1" fill="#999"/><rect x="475.2" y="451.6" width="1.1" height="1.1" fill="#777"/><rect x="437.9" y="552.9" width="1.1" height="1.1" fill="#bbb"/><rect x="428.9" y="371.5" width="1.1" height="1.1" fill="#aaa"/><rect x="468.7" y="477.6" width="1.1" height="1.1" fill="#777"/><rect x="579.1" y="509.4" width="1.1" height="1.1" fill="#999"/><rect x="600.3" y="429.1" width="1.1" height="1.1" fill="#999"/><rect x="507.8" y="396.9" width="1.1" height="1.1" fill="#666"/><rect x="504.6" y="628.2" width="1.1" height="1.1" fill="#777"/><rect x="405.4" y="476.8" width="1.1" height="1.1" fill="#999"/><rect x="380.1" y="486.6" width="1.1" height="1.1" fill="#bbb"/><rect x="654.8" y="462.2" width="1.1" height="1.1" fill="#666"/><rect x="510.2" y="370.8" width="1.1" height="1.1" fill="#bbb"/><rect x="651.1" y="491.1" width="1.1" height="1.1" fill="#888"/><rect x="455.9" y="620.9" width="1.1" height="1.1" fill="#999"/><rect x="489.2" y="452.3" width="1.1" height="1.1" fill="#777"/><rect x="419.8" y="520.2" width="1.1" height="1.1" fill="#4f6f4f"/><rect x="648.0" y="546.6" width="1.1" height="1.1" fill="#999"/><rect x="587.1" y="373.4" width="1.1" height="1.1" fill="#777"/><rect x="581.5" y="382.8" width="1.1" height="1.1" fill="#aaa"/><rect x="544.5" y="580.2" width="1.1" height="1.1" fill="#aaa"/><rect x="449.6" y="572.9" width="1.1" height="1.1" fill="#888"/><rect x="500.2" y="498.0" width="1.1" height="1.1" fill="#bbb"/><rect x="630.2" y="600.2" width="1.1" height="1.1" fill="#666"/><rect x="416.1" y="596.7" width="1.1" height="1.1" fill="#5d6d5d"/><rect x="588.9" y="539.4" width="1.1" height="1.1" fill="#aaa"/><rect x="497.5" y="591.2" width="1.1" height="1.1" fill="#888"/><rect x="404.7" y="380.5" width="1.1" height="1.1" fill="#777"/><rect x="621.4" y="412.5" width="1.1" height="1.1" fill="#888"/><rect x="387.2" y="651.1" width="1.1" height="1.1" fill="#4f6f4f"/><rect x="493.2" y="559.0" width="1.1" height="1.1" fill="#888"/><rect x="448.6" y="443.4" width="1.1" height="1.1" fill="#5d6d5d"/><rect x="416.9" y="419.9" width="1.1" height="1.1" fill="#999"/><rect x="381.5" y="532.7" width="1.1" height="1.1" fill="#5d6d5d"/><rect x="511.1" y="429.3" width="1.1" height="1.1" fill="#888"/><rect x="652.9" y="391.5" width="1.1" height="1.1" fill="#4f6f4f"/><rect x="430.2" y="492.9" width="1.1" height="1.1" fill="#aaa"/><rect x="386.9" y="537.4" width="1.1" height="1.1" fill="#999"/><rect x="471.6" y="615.3" width="1.1" height="1.1" fill="#4f6f4f"/><rect x="589.6" y="556.3" width="1.1" height="1.1" fill="#777"/><rect x="373.5" y="542.8" width="1.1" height="1.1" fill="#aaa"/><rect x="427.5" y="576.0" width="1.1" height="1.1" fill="#999"/><rect x="602.4" y="481.3" width="1.1" height="1.1" fill="#aaa"/><rect x="413.7" y="506.7" width="1.1" height="1.1" fill="#4f6f4f"/><rect x="466.2" y="406.8" width="1.1" height="1.1" fill="#888"/><rect x="479.0" y="441.0" width="1.1" height="1.1" fill="#5d6d5d"/><rect x="484.9" y="376.5" width="1.1" height="1.1" fill="#aaa"/><rect x="600.5" y="468.1" width="1.1" height="1.1" fill="#999"/><rect x="369.3" y="407.4" width="1.1" height="1.1" fill="#888"/><rect x="481.5" y="620.2" width="1.1" height="1.1" fill="#4f6f4f"/><rect x="400.6" y="376.6" width="1.1" height="1.1" fill="#666"/><rect x="629.1" y="387.6" width="1.1" height="1.1" fill="#aaa"/><rect x="412.8" y="463.4" width="1.1" height="1.1" fill="#666"/><rect x="583.3" y="396.3" width="1.1" height="1.1" fill="#999"/><rect x="503.9" y="383.5" width="1.1" height="1.1" fill="#777"/><rect x="549.0" y="386.8" width="1.1" height="1.1" fill="#666"/><rect x="613.5" y="543.5" width="1.1" height="1.1" fill="#999"/><rect x="416.1" y="425.4" width="1.1" height="1.1" fill="#bbb"/><rect x="408.3" y="466.7" width="1.1" height="1.1" fill="#666"/><rect x="621.5" y="629.7" width="1.1" height="1.1" fill="#777"/><rect x="457.5" y="475.7" width="1.1" height="1.1" fill="#4f6f4f"/><rect x="452.8" y="452.1" width="1.1" height="1.1" fill="#999"/><rect x="414.9" y="497.0" width="1.1" height="1.1" fill="#777"/><rect x="505.9" y="430.4" width="1.1" height="1.1" fill="#4f6f4f"/><rect x="600.0" y="478.8" width="1.1" height="1.1" fill="#888"/><rect x="384.3" y="509.3" width="1.1" height="1.1" fill="#777"/><rect x="589.8" y="572.6" width="1.1" height="1.1" fill="#888"/><rect x="592.3" y="480.2" width="1.1" height="1.1" fill="#777"/><rect x="654.4" y="576.0" width="1.1" height="1.1" fill="#888"/><rect x="600.1" y="504.8" width="1.1" height="1.1" fill="#666"/><rect x="573.8" y="426.3" width="1.1" height="1.1" fill="#aaa"/><rect x="436.4" y="456.4" width="1.1" height="1.1" fill="#5d6d5d"/><rect x="496.2" y="436.0" width="1.1" height="1.1" fill="#4f6f4f"/><rect x="509.7" y="470.6" width="1.1" height="1.1" fill="#999"/><rect x="428.2" y="623.9" width="1.1" height="1.1" fill="#666"/><rect x="440.0" y="586.6" width="1.1" height="1.1" fill="#777"/><rect x="467.9" y="617.3" width="1.1" height="1.1" fill="#888"/><rect x="596.2" y="619.9" width="1.1" height="1.1" fill="#5d6d5d"/><rect x="395.4" y="585.5" width="1.1" height="1.1" fill="#4f6f4f"/><rect x="602.7" y="647.5" width="1.1" height="1.1" fill="#5d6d5d"/><rect x="557.0" y="620.1" width="1.1" height="1.1" fill="#aaa"/><rect x="581.4" y="426.4" width="1.1" height="1.1" fill="#5d6d5d"/><rect x="489.1" y="511.7" width="1.1" height="1.1" fill="#777"/><rect x="555.5" y="377.4" width="1.1" height="1.1" fill="#aaa"/><rect x="533.5" y="524.7" width="1.1" height="1.1" fill="#666"/><rect x="366.6" y="504.7" width="1.1" height="1.1" fill="#999"/><rect x="494.6" y="380.2" width="1.1" height="1.1" fill="#666"/><rect x="591.7" y="479.3" width="1.1" height="1.1" fill="#5d6d5d"/><rect x="378.9" y="602.0" width="1.1" height="1.1" fill="#aaa"/><rect x="577.4" y="543.4" width="1.1" height="1.1" fill="#999"/><rect x="378.9" y="480.5" width="1.1" height="1.1" fill="#999"/><rect x="523.9" y="395.9" width="1.1" height="1.1" fill="#999"/><rect x="545.1" y="551.2" width="1.1" height="1.1" fill="#bbb"/><rect x="413.7" y="452.1" width="1.1" height="1.1" fill="#5d6d5d"/><rect x="653.8" y="573.7" width="1.1" height="1.1" fill="#4f6f4f"/><rect x="364.4" y="608.9" width="1.1" height="1.1" fill="#4f6f4f"/><rect x="393.3" y="411.7" width="1.1" height="1.1" fill="#999"/><rect x="398.6" y="622.6" width="1.1" height="1.1" fill="#5d6d5d"/><rect x="440.4" y="523.8" width="1.1" height="1.1" fill="#bbb"/><rect x="631.3" y="646.3" width="1.1" height="1.1" fill="#5d6d5d"/><rect x="645.3" y="425.1" width="1.1" height="1.1" fill="#777"/><rect x="639.3" y="611.2" width="1.1" height="1.1" fill="#aaa"/><rect x="544.7" y="627.4" width="1.1" height="1.1" fill="#4f6f4f"/><rect x="490.6" y="378.0" width="1.1" height="1.1" fill="#999"/><rect x="414.1" y="533.0" width="1.1" height="1.1" fill="#666"/><rect x="387.4" y="408.9" width="1.1" height="1.1" fill="#666"/><rect x="371.5" y="402.1" width="1.1" height="1.1" fill="#777"/><rect x="578.4" y="380.8" width="1.1" height="1.1" fill="#aaa"/><rect x="381.8" y="525.4" width="1.1" height="1.1" fill="#bbb"/><rect x="386.8" y="639.6" width="1.1" height="1.1" fill="#888"/><rect x="547.5" y="445.7" width="1.1" height="1.1" fill="#888"/><rect x="456.0" y="552.7" width="1.1" height="1.1" fill="#bbb"/><rect x="434.8" y="584.1" width="1.1" height="1.1" fill="#aaa"/><rect x="538.9" y="501.0" width="1.1" height="1.1" fill="#5d6d5d"/><rect x="371.6" y="482.5" width="1.1" height="1.1" fill="#bbb"/><rect x="500.2" y="519.1" width="1.1" height="1.1" fill="#999"/><rect x="605.1" y="529.8" width="1.1" height="1.1" fill="#5d6d5d"/><rect x="414.0" y="581.4" width="1.1" height="1.1" fill="#777"/><rect x="500.2" y="603.3" width="1.1" height="1.1" fill="#4f6f4f"/><rect x="639.1" y="514.8" width="1.1" height="1.1" fill="#5d6d5d"/><rect x="637.4" y="429.3" width="1.1" height="1.1" fill="#666"/><rect x="652.9" y="387.6" width="1.1" height="1.1" fill="#888"/><rect x="466.7" y="479.1" width="1.1" height="1.1" fill="#bbb"/><rect x="580.8" y="485.2" width="1.1" height="1.1" fill="#777"/><rect x="475.4" y="508.3" width="1.1" height="1.1" fill="#bbb"/><rect x="547.3" y="638.1" width="1.1" height="1.1" fill="#666"/><rect x="372.4" y="594.1" width="1.1" height="1.1" fill="#aaa"/><rect x="579.9" y="497.2" width="1.1" height="1.1" fill="#666"/><rect x="399.4" y="441.0" width="1.1" height="1.1" fill="#4f6f4f"/><rect x="566.6" y="510.3" width="1.1" height="1.1" fill="#5d6d5d"/><rect x="574.4" y="611.1" width="1.1" height="1.1" fill="#999"/><rect x="539.1" y="463.6" width="1.1" height="1.1" fill="#999"/><rect x="590.5" y="409.7" width="1.1" height="1.1" fill="#888"/><rect x="395.8" y="576.4" width="1.1" height="1.1" fill="#bbb"/><rect x="387.1" y="620.9" width="1.1" height="1.1" fill="#4f6f4f"/><rect x="614.7" y="426.7" width="1.1" height="1.1" fill="#5d6d5d"/><rect x="545.2" y="363.1" width="1.1" height="1.1" fill="#999"/><rect x="488.5" y="529.7" width="1.1" height="1.1" fill="#bbb"/><rect x="558.2" y="552.7" width="1.1" height="1.1" fill="#999"/><rect x="550.5" y="494.5" width="1.1" height="1.1" fill="#aaa"/><rect x="591.7" y="629.9" width="1.1" height="1.1" fill="#666"/><rect x="492.6" y="613.1" width="1.1" height="1.1" fill="#666"/><rect x="458.6" y="364.6" width="1.1" height="1.1" fill="#4f6f4f"/><rect x="393.7" y="435.1" width="1.1" height="1.1" fill="#999"/><rect x="464.5" y="647.7" width="1.1" height="1.1" fill="#4f6f4f"/><rect x="594.7" y="514.5" width="1.1" height="1.1" fill="#aaa"/><rect x="492.8" y="562.0" width="1.1" height="1.1" fill="#bbb"/><rect x="466.7" y="584.5" width="1.1" height="1.1" fill="#777"/><rect x="378.4" y="484.1" width="1.1" height="1.1" fill="#bbb"/><rect x="560.2" y="531.5" width="1.1" height="1.1" fill="#888"/><rect x="647.1" y="648.5" width="1.1" height="1.1" fill="#bbb"/><rect x="599.6" y="595.4" width="1.1" height="1.1" fill="#999"/><rect x="405.4" y="430.3" width="1.1" height="1.1" fill="#bbb"/><rect x="521.1" y="590.0" width="1.1" height="1.1" fill="#4f6f4f"/><rect x="563.9" y="441.1" width="1.1" height="1.1" fill="#bbb"/><rect x="503.6" y="597.5" width="1.1" height="1.1" fill="#5d6d5d"/><rect x="488.0" y="462.0" width="1.1" height="1.1" fill="#888"/><rect x="468.7" y="633.6" width="1.1" height="1.1" fill="#bbb"/><rect x="638.7" y="629.8" width="1.1" height="1.1" fill="#aaa"/><rect x="366.9" y="364.9" width="1.1" height="1.1" fill="#888"/><rect x="435.8" y="391.2" width="1.1" height="1.1" fill="#666"/><rect x="416.9" y="493.9" width="1.1" height="1.1" fill="#666"/><rect x="520.7" y="622.6" width="1.1" height="1.1" fill="#888"/><rect x="624.4" y="592.4" width="1.1" height="1.1" fill="#5d6d5d"/><rect x="608.4" y="514.6" width="1.1" height="1.1" fill="#888"/><rect x="420.3" y="500.2" width="1.1" height="1.1" fill="#777"/><rect x="508.5" y="576.0" width="1.1" height="1.1" fill="#777"/><rect x="578.1" y="556.4" width="1.1" height="1.1" fill="#4f6f4f"/><rect x="565.6" y="548.2" width="1.1" height="1.1" fill="#777"/><rect x="590.4" y="458.3" width="1.1" height="1.1" fill="#888"/><rect x="647.6" y="424.0" width="1.1" height="1.1" fill="#bbb"/><rect x="461.7" y="614.0" width="1.1" height="1.1" fill="#aaa"/><rect x="424.2" y="525.3" width="1.1" height="1.1" fill="#bbb"/><rect x="379.2" y="447.3" width="1.1" height="1.1" fill="#4f6f4f"/><rect x="463.5" y="441.3" width="1.1" height="1.1" fill="#999"/><rect x="594.5" y="458.5" width="1.1" height="1.1" fill="#aaa"/><rect x="399.9" y="646.5" width="1.1" height="1.1" fill="#888"/><rect x="374.2" y="573.2" width="1.1" height="1.1" fill="#bbb"/><rect x="434.9" y="375.1" width="1.1" height="1.1" fill="#4f6f4f"/><rect x="555.3" y="592.7" width="1.1" height="1.1" fill="#bbb"/><rect x="546.2" y="565.5" width="1.1" height="1.1" fill="#888"/><rect x="413.5" y="497.1" width="1.1" height="1.1" fill="#666"/><rect x="486.0" y="391.0" width="1.1" height="1.1" fill="#777"/><rect x="570.6" y="602.8" width="1.1" height="1.1" fill="#5d6d5d"/><rect x="369.3" y="549.5" width="1.1" height="1.1" fill="#777"/><rect x="599.9" y="610.6" width="1.1" height="1.1" fill="#bbb"/><rect x="466.1" y="652.5" width="1.1" height="1.1" fill="#666"/><rect x="386.9" y="499.9" width="1.1" height="1.1" fill="#666"/><rect x="487.6" y="364.2" width="1.1" height="1.1" fill="#888"/><rect x="614.0" y="425.4" width="1.1" height="1.1" fill="#888"/><rect x="590.1" y="493.6" width="1.1" height="1.1" fill="#666"/><rect x="469.7" y="580.4" width="1.1" height="1.1" fill="#666"/><rect x="387.2" y="545.7" width="1.1" height="1.1" fill="#4f6f4f"/><rect x="377.9" y="441.3" width="1.1" height="1.1" fill="#777"/><rect x="556.2" y="542.6" width="1.1" height="1.1" fill="#bbb"/><rect x="607.1" y="412.5" width="1.1" height="1.1" fill="#777"/><rect x="560.8" y="583.9" width="1.1" height="1.1" fill="#666"/><rect x="396.7" y="641.0" width="1.1" height="1.1" fill="#666"/><rect x="485.0" y="474.5" width="1.1" height="1.1" fill="#4f6f4f"/><rect x="592.4" y="527.6" width="1.1" height="1.1" fill="#5d6d5d"/><rect x="604.9" y="553.2" width="1.1" height="1.1" fill="#aaa"/><rect x="575.1" y="366.0" width="1.1" height="1.1" fill="#666"/><rect x="452.9" y="487.1" width="1.1" height="1.1" fill="#999"/><rect x="431.2" y="543.3" width="1.1" height="1.1" fill="#4f6f4f"/><rect x="427.8" y="407.6" width="1.1" height="1.1" fill="#777"/><rect x="648.4" y="529.1" width="1.1" height="1.1" fill="#5d6d5d"/><rect x="596.1" y="522.0" width="1.1" height="1.1" fill="#4f6f4f"/><rect x="521.0" y="473.3" width="1.1" height="1.1" fill="#999"/><rect x="466.0" y="422.0" width="1.1" height="1.1" fill="#5d6d5d"/><rect x="466.0" y="387.2" width="1.1" height="1.1" fill="#aaa"/><rect x="430.7" y="531.3" width="1.1" height="1.1" fill="#5d6d5d"/><rect x="515.4" y="501.1" width="1.1" height="1.1" fill="#999"/><rect x="405.3" y="446.4" width="1.1" height="1.1" fill="#aaa"/><rect x="632.8" y="404.7" width="1.1" height="1.1" fill="#4f6f4f"/><rect x="556.0" y="385.4" width="1.1" height="1.1" fill="#aaa"/><rect x="510.1" y="389.1" width="1.1" height="1.1" fill="#999"/><rect x="616.3" y="504.0" width="1.1" height="1.1" fill="#999"/><rect x="493.4" y="486.6" width="1.1" height="1.1" fill="#666"/><rect x="414.7" y="472.3" width="1.1" height="1.1" fill="#777"/><rect x="505.1" y="620.2" width="1.1" height="1.1" fill="#888"/><rect x="550.0" y="631.7" width="1.1" height="1.1" fill="#888"/><rect x="632.3" y="552.6" width="1.1" height="1.1" fill="#bbb"/><rect x="653.1" y="470.5" width="1.1" height="1.1" fill="#999"/><rect x="627.0" y="647.9" width="1.1" height="1.1" fill="#777"/><rect x="376.3" y="591.9" width="1.1" height="1.1" fill="#4f6f4f"/><rect x="599.5" y="419.8" width="1.1" height="1.1" fill="#5d6d5d"/><rect x="555.6" y="456.4" width="1.1" height="1.1" fill="#5d6d5d"/><rect x="465.7" y="431.4" width="1.1" height="1.1" fill="#666"/><rect x="623.9" y="498.6" width="1.1" height="1.1" fill="#999"/><rect x="408.5" y="605.5" width="1.1" height="1.1" fill="#888"/><rect x="616.5" y="621.9" width="1.1" height="1.1" fill="#666"/><rect x="643.2" y="632.8" width="1.1" height="1.1" fill="#bbb"/><rect x="546.6" y="494.0" width="1.1" height="1.1" fill="#aaa"/><rect x="387.4" y="403.3" width="1.1" height="1.1" fill="#999"/><rect x="415.3" y="493.8" width="1.1" height="1.1" fill="#666"/><rect x="474.9" y="407.1" width="1.1" height="1.1" fill="#5d6d5d"/><rect x="614.5" y="505.4" width="1.1" height="1.1" fill="#aaa"/><rect x="396.0" y="378.2" width="1.1" height="1.1" fill="#999"/><rect x="421.6" y="396.2" width="1.1" height="1.1" fill="#aaa"/><rect x="420.4" y="390.1" width="1.1" height="1.1" fill="#5d6d5d"/><rect x="625.2" y="447.5" width="1.1" height="1.1" fill="#777"/><rect x="363.1" y="514.6" width="1.1" height="1.1" fill="#5d6d5d"/><rect x="474.7" y="528.9" width="1.1" height="1.1" fill="#666"/><rect x="515.3" y="429.0" width="1.1" height="1.1" fill="#666"/><rect x="384.4" y="575.6" width="1.1" height="1.1" fill="#5d6d5d"/><rect x="566.2" y="599.3" width="1.1" height="1.1" fill="#5d6d5d"/><rect x="590.0" y="607.9" width="1.1" height="1.1" fill="#777"/><rect x="435.6" y="614.8" width="1.1" height="1.1" fill="#4f6f4f"/><rect x="600.0" y="617.0" width="1.1" height="1.1" fill="#5d6d5d"/><rect x="568.3" y="469.5" width="1.1" height="1.1" fill="#777"/><rect x="397.9" y="648.0" width="1.1" height="1.1" fill="#999"/><rect x="616.1" y="455.5" width="1.1" height="1.1" fill="#bbb"/><rect x="642.0" y="452.4" width="1.1" height="1.1" fill="#4f6f4f"/><rect x="614.8" y="367.6" width="1.1" height="1.1" fill="#888"/><rect x="387.1" y="524.2" width="1.1" height="1.1" fill="#777"/><rect x="367.7" y="583.7" width="1.1" height="1.1" fill="#4f6f4f"/><rect x="390.0" y="396.3" width="1.1" height="1.1" fill="#666"/><rect x="500.1" y="584.6" width="1.1" height="1.1" fill="#888"/><rect x="395.5" y="428.1" width="1.1" height="1.1" fill="#999"/><rect x="640.3" y="583.9" width="1.1" height="1.1" fill="#777"/><rect x="476.4" y="484.7" width="1.1" height="1.1" fill="#777"/><rect x="479.9" y="593.9" width="1.1" height="1.1" fill="#aaa"/><rect x="609.5" y="526.9" width="1.1" height="1.1" fill="#aaa"/><rect x="610.9" y="377.2" width="1.1" height="1.1" fill="#666"/><rect x="636.3" y="434.5" width="1.1" height="1.1" fill="#bbb"/><rect x="365.9" y="393.4" width="1.1" height="1.1" fill="#666"/><rect x="510.2" y="427.6" width="1.1" height="1.1" fill="#bbb"/><rect x="590.0" y="636.0" width="1.1" height="1.1" fill="#777"/><rect x="621.6" y="620.7" width="1.1" height="1.1" fill="#777"/><rect x="544.4" y="630.5" width="1.1" height="1.1" fill="#5d6d5d"/><rect x="598.8" y="372.0" width="1.1" height="1.1" fill="#888"/><rect x="374.0" y="486.7" width="1.1" height="1.1" fill="#888"/><rect x="643.5" y="396.0" width="1.1" height="1.1" fill="#5d6d5d"/><rect x="398.8" y="639.6" width="1.1" height="1.1" fill="#666"/><rect x="630.8" y="530.7" width="1.1" height="1.1" fill="#5d6d5d"/><rect x="520.8" y="494.6" width="1.1" height="1.1" fill="#999"/><rect x="421.4" y="569.6" width="1.1" height="1.1" fill="#4f6f4f"/><rect x="451.5" y="501.5" width="1.1" height="1.1" fill="#5d6d5d"/><rect x="414.2" y="473.8" width="1.1" height="1.1" fill="#bbb"/><rect x="640.5" y="456.4" width="1.1" height="1.1" fill="#aaa"/><rect x="414.0" y="587.7" width="1.1" height="1.1" fill="#666"/><rect x="380.7" y="469.9" width="1.1" height="1.1" fill="#bbb"/><rect x="466.3" y="585.0" width="1.1" height="1.1" fill="#999"/><rect x="561.1" y="635.1" width="1.1" height="1.1" fill="#bbb"/><rect x="565.7" y="540.5" width="1.1" height="1.1" fill="#5d6d5d"/><rect x="514.2" y="578.0" width="1.1" height="1.1" fill="#4f6f4f"/><rect x="399.8" y="553.4" width="1.1" height="1.1" fill="#888"/><rect x="479.0" y="532.6" width="1.1" height="1.1" fill="#666"/><rect x="395.0" y="620.1" width="1.1" height="1.1" fill="#4f6f4f"/><rect x="446.9" y="464.8" width="1.1" height="1.1" fill="#aaa"/><rect x="364.5" y="480.1" width="1.1" height="1.1" fill="#4f6f4f"/><rect x="520.8" y="404.0" width="1.1" height="1.1" fill="#bbb"/><rect x="448.5" y="608.6" width="1.1" height="1.1" fill="#999"/><rect x="422.4" y="486.4" width="1.1" height="1.1" fill="#777"/><rect x="648.0" y="631.2" width="1.1" height="1.1" fill="#5d6d5d"/><rect x="575.5" y="515.3" width="1.1" height="1.1" fill="#bbb"/><rect x="545.2" y="494.2" width="1.1" height="1.1" fill="#777"/><rect x="516.4" y="390.5" width="1.1" height="1.1" fill="#aaa"/><rect x="620.3" y="640.1" width="1.1" height="1.1" fill="#bbb"/><rect x="545.4" y="533.6" width="1.1" height="1.1" fill="#888"/><rect x="384.3" y="511.7" width="1.1" height="1.1" fill="#888"/><rect x="448.9" y="462.1" width="1.1" height="1.1" fill="#bbb"/><rect x="516.0" y="600.6" width="1.1" height="1.1" fill="#999"/><rect x="404.6" y="527.0" width="1.1" height="1.1" fill="#888"/><rect x="565.2" y="553.2" width="1.1" height="1.1" fill="#777"/><rect x="452.4" y="563.9" width="1.1" height="1.1" fill="#777"/><rect x="479.0" y="390.4" width="1.1" height="1.1" fill="#777"/><rect x="420.1" y="507.4" width="1.1" height="1.1" fill="#5d6d5d"/><rect x="624.9" y="512.2" width="1.1" height="1.1" fill="#666"/><rect x="386.9" y="513.4" width="1.1" height="1.1" fill="#888"/><rect x="510.0" y="498.5" width="1.1" height="1.1" fill="#bbb"/><rect x="380.7" y="365.2" width="1.1" height="1.1" fill="#aaa"/><rect x="427.7" y="439.6" width="1.1" height="1.1" fill="#888"/><rect x="640.2" y="380.0" width="1.1" height="1.1" fill="#999"/><rect x="378.6" y="477.5" width="1.1" height="1.1" fill="#777"/><rect x="409.2" y="429.7" width="1.1" height="1.1" fill="#666"/><rect x="485.1" y="611.0" width="1.1" height="1.1" fill="#5d6d5d"/><rect x="507.7" y="639.8" width="1.1" height="1.1" fill="#999"/><rect x="560.2" y="532.9" width="1.1" height="1.1" fill="#bbb"/><rect x="616.9" y="504.5" width="1.1" height="1.1" fill="#888"/><rect x="404.5" y="620.0" width="1.1" height="1.1" fill="#bbb"/><rect x="521.4" y="459.9" width="1.1" height="1.1" fill="#888"/><rect x="486.2" y="629.0" width="1.1" height="1.1" fill="#999"/><rect x="455.7" y="371.7" width="1.1" height="1.1" fill="#777"/><rect x="577.6" y="419.0" width="1.1" height="1.1" fill="#666"/><rect x="615.1" y="408.2" width="1.1" height="1.1" fill="#aaa"/><rect x="556.5" y="422.5" width="1.1" height="1.1" fill="#4f6f4f"/><rect x="493.3" y="637.5" width="1.1" height="1.1" fill="#5d6d5d"/><rect x="456.0" y="479.9" width="1.1" height="1.1" fill="#999"/><rect x="521.5" y="568.0" width="1.1" height="1.1" fill="#5d6d5d"/><rect x="586.6" y="369.9" width="1.1" height="1.1" fill="#666"/><rect x="384.2" y="588.9" width="1.1" height="1.1" fill="#999"/><rect x="630.3" y="396.0" width="1.1" height="1.1" fill="#5d6d5d"/><rect x="399.5" y="387.3" width="1.1" height="1.1" fill="#bbb"/><rect x="493.4" y="620.1" width="1.1" height="1.1" fill="#666"/><rect x="414.2" y="468.9" width="1.1" height="1.1" fill="#aaa"/><rect x="369.9" y="567.7" width="1.1" height="1.1" fill="#4f6f4f"/><rect x="391.1" y="470.4" width="1.1" height="1.1" fill="#5d6d5d"/><rect x="561.0" y="583.7" width="1.1" height="1.1" fill="#bbb"/><rect x="414.5" y="407.3" width="1.1" height="1.1" fill="#777"/><rect x="608.5" y="647.7" width="1.1" height="1.1" fill="#4f6f4f"/><rect x="437.1" y="488.9" width="1.1" height="1.1" fill="#aaa"/><rect x="395.3" y="585.3" width="1.1" height="1.1" fill="#5d6d5d"/><rect x="618.9" y="532.9" width="1.1" height="1.1" fill="#777"/><rect x="562.1" y="372.4" width="1.1" height="1.1" fill="#aaa"/><rect x="484.8" y="584.4" width="1.1" height="1.1" fill="#bbb"/><rect x="542.8" y="426.2" width="1.1" height="1.1" fill="#888"/><rect x="565.1" y="497.4" width="1.1" height="1.1" fill="#4f6f4f"/><rect x="512.5" y="419.9" width="1.1" height="1.1" fill="#666"/><rect x="578.3" y="525.3" width="1.1" height="1.1" fill="#666"/><rect x="438.8" y="552.7" width="1.1" height="1.1" fill="#777"/><rect x="383.7" y="452.5" width="1.1" height="1.1" fill="#666"/><rect x="505.0" y="503.0" width="1.1" height="1.1" fill="#999"/><rect x="465.5" y="405.4" width="1.1" height="1.1" fill="#5d6d5d"/><rect x="460.2" y="533.1" width="1.1" height="1.1" fill="#888"/><rect x="407.9" y="412.2" width="1.1" height="1.1" fill="#4f6f4f"/><rect x="481.5" y="422.0" width="1.1" height="1.1" fill="#5d6d5d"/><rect x="378.5" y="443.8" width="1.1" height="1.1" fill="#999"/><rect x="387.0" y="491.9" width="1.1" height="1.1" fill="#aaa"/><rect x="653.2" y="382.5" width="1.1" height="1.1" fill="#4f6f4f"/><rect x="394.4" y="584.1" width="1.1" height="1.1" fill="#4f6f4f"/><rect x="505.6" y="591.2" width="1.1" height="1.1" fill="#aaa"/><rect x="542.2" y="552.8" width="1.1" height="1.1" fill="#5d6d5d"/><rect x="385.4" y="580.5" width="1.1" height="1.1" fill="#777"/><rect x="608.5" y="448.3" width="1.1" height="1.1" fill="#666"/><rect x="516.5" y="623.9" width="1.1" height="1.1" fill="#666"/><rect x="458.2" y="452.2" width="1.1" height="1.1" fill="#666"/><rect x="466.9" y="429.0" width="1.1" height="1.1" fill="#666"/><rect x="624.8" y="378.4" width="1.1" height="1.1" fill="#888"/><rect x="480.6" y="611.5" width="1.1" height="1.1" fill="#777"/><rect x="507.4" y="507.9" width="1.1" height="1.1" fill="#666"/><rect x="539.1" y="545.1" width="1.1" height="1.1" fill="#666"/><rect x="410.4" y="491.4" width="1.1" height="1.1" fill="#bbb"/><rect x="493.1" y="425.5" width="1.1" height="1.1" fill="#aaa"/><rect x="512.3" y="620.3" width="1.1" height="1.1" fill="#666"/><rect x="623.5" y="515.2" width="1.1" height="1.1" fill="#888"/><rect x="574.9" y="610.7" width="1.1" height="1.1" fill="#bbb"/><rect x="531.2" y="527.8" width="1.1" height="1.1" fill="#4f6f4f"/><rect x="493.0" y="518.2" width="1.1" height="1.1" fill="#666"/><rect x="644.3" y="543.1" width="1.1" height="1.1" fill="#777"/><rect x="459.6" y="554.4" width="1.1" height="1.1" fill="#bbb"/><rect x="503.4" y="551.2" width="1.1" height="1.1" fill="#5d6d5d"/><rect x="517.9" y="547.2" width="1.1" height="1.1" fill="#999"/><rect x="556.0" y="575.6" width="1.1" height="1.1" fill="#aaa"/><rect x="528.0" y="470.0" width="1.1" height="1.1" fill="#bbb"/><rect x="647.7" y="581.2" width="1.1" height="1.1" fill="#999"/><rect x="436.8" y="389.3" width="1.1" height="1.1" fill="#5d6d5d"/><rect x="429.0" y="495.7" width="1.1" height="1.1" fill="#888"/><rect x="628.9" y="527.6" width="1.1" height="1.1" fill="#bbb"/><rect x="597.0" y="400.8" width="1.1" height="1.1" fill="#888"/><rect x="643.9" y="512.4" width="1.1" height="1.1" fill="#4f6f4f"/><rect x="477.3" y="411.7" width="1.1" height="1.1" fill="#999"/><rect x="543.8" y="404.9" width="1.1" height="1.1" fill="#bbb"/><rect x="369.6" y="641.5" width="1.1" height="1.1" fill="#4f6f4f"/><rect x="388.2" y="487.4" width="1.1" height="1.1" fill="#999"/><rect x="470.0" y="619.9" width="1.1" height="1.1" fill="#aaa"/><rect x="578.2" y="364.9" width="1.1" height="1.1" fill="#5d6d5d"/><rect x="590.0" y="466.1" width="1.1" height="1.1" fill="#4f6f4f"/><rect x="458.4" y="396.3" width="1.1" height="1.1" fill="#888"/><rect x="419.1" y="429.8" width="1.1" height="1.1" fill="#4f6f4f"/><rect x="368.6" y="496.6" width="1.1" height="1.1" fill="#888"/><rect x="395.6" y="446.5" width="1.1" height="1.1" fill="#bbb"/><rect x="534.9" y="434.8" width="1.1" height="1.1" fill="#5d6d5d"/><rect x="366.5" y="461.8" width="1.1" height="1.1" fill="#666"/><rect x="379.2" y="371.9" width="1.1" height="1.1" fill="#666"/><rect x="551.4" y="537.3" width="1.1" height="1.1" fill="#4f6f4f"/><rect x="565.5" y="492.9" width="1.1" height="1.1" fill="#999"/><rect x="541.5" y="383.7" width="1.1" height="1.1" fill="#aaa"/><rect x="395.6" y="374.3" width="1.1" height="1.1" fill="#666"/><rect x="575.6" y="458.6" width="1.1" height="1.1" fill="#4f6f4f"/><rect x="369.2" y="503.1" width="1.1" height="1.1" fill="#999"/><rect x="544.5" y="404.2" width="1.1" height="1.1" fill="#666"/><rect x="510.5" y="466.1" width="1.1" height="1.1" fill="#666"/><rect x="372.5" y="525.8" width="1.1" height="1.1" fill="#888"/><rect x="589.4" y="547.0" width="1.1" height="1.1" fill="#888"/><rect x="614.5" y="594.9" width="1.1" height="1.1" fill="#666"/><rect x="451.6" y="585.2" width="1.1" height="1.1" fill="#aaa"/><rect x="572.2" y="470.4" width="1.1" height="1.1" fill="#aaa"/><rect x="449.1" y="590.8" width="1.1" height="1.1" fill="#aaa"/><rect x="599.6" y="653.5" width="1.1" height="1.1" fill="#666"/><rect x="640.2" y="480.2" width="1.1" height="1.1" fill="#bbb"/><rect x="405.1" y="403.6" width="1.1" height="1.1" fill="#5d6d5d"/><rect x="462.3" y="568.4" width="1.1" height="1.1" fill="#999"/><rect x="404.8" y="465.1" width="1.1" height="1.1" fill="#4f6f4f"/><rect x="632.6" y="487.2" width="1.1" height="1.1" fill="#4f6f4f"/><rect x="647.8" y="368.3" width="1.1" height="1.1" fill="#666"/><rect x="431.9" y="367.4" width="1.1" height="1.1" fill="#777"/><rect x="544.8" y="508.6" width="1.1" height="1.1" fill="#888"/><rect x="376.7" y="647.6" width="1.1" height="1.1" fill="#888"/><rect x="619.0" y="461.5" width="1.1" height="1.1" fill="#666"/><rect x="556.4" y="549.0" width="1.1" height="1.1" fill="#777"/><rect x="589.5" y="504.0" width="1.1" height="1.1" fill="#aaa"/><rect x="546.0" y="602.5" width="1.1" height="1.1" fill="#aaa"/><rect x="651.9" y="478.6" width="1.1" height="1.1" fill="#4f6f4f"/><rect x="370.0" y="454.3" width="1.1" height="1.1" fill="#aaa"/><rect x="408.4" y="584.3" width="1.1" height="1.1" fill="#777"/><rect x="600.3" y="466.3" width="1.1" height="1.1" fill="#aaa"/><rect x="407.4" y="533.4" width="1.1" height="1.1" fill="#aaa"/><rect x="586.1" y="611.2" width="1.1" height="1.1" fill="#5d6d5d"/><rect x="523.5" y="568.5" width="1.1" height="1.1" fill="#5d6d5d"/><rect x="365.1" y="440.5" width="1.1" height="1.1" fill="#4f6f4f"/><rect x="546.8" y="469.7" width="1.1" height="1.1" fill="#bbb"/><rect x="388.8" y="369.7" width="1.1" height="1.1" fill="#666"/><rect x="415.8" y="420.1" width="1.1" height="1.1" fill="#aaa"/><rect x="627.0" y="616.7" width="1.1" height="1.1" fill="#666"/><rect x="577.7" y="649.3" width="1.1" height="1.1" fill="#4f6f4f"/><rect x="497.3" y="630.3" width="1.1" height="1.1" fill="#aaa"/><rect x="370.3" y="554.9" width="1.1" height="1.1" fill="#777"/><rect x="465.3" y="480.2" width="1.1" height="1.1" fill="#999"/><rect x="466.4" y="545.2" width="1.1" height="1.1" fill="#999"/><rect x="577.9" y="429.3" width="1.1" height="1.1" fill="#999"/><rect x="427.8" y="652.8" width="1.1" height="1.1" fill="#999"/><rect x="594.2" y="501.4" width="1.1" height="1.1" fill="#5d6d5d"/><rect x="402.5" y="449.4" width="1.1" height="1.1" fill="#888"/><rect x="647.7" y="455.2" width="1.1" height="1.1" fill="#4f6f4f"/><rect x="614.5" y="620.4" width="1.1" height="1.1" fill="#aaa"/><rect x="615.6" y="496.7" width="1.1" height="1.1" fill="#5d6d5d"/><rect x="598.4" y="406.0" width="1.1" height="1.1" fill="#777"/><rect x="510.2" y="390.1" width="1.1" height="1.1" fill="#666"/><rect x="474.8" y="630.6" width="1.1" height="1.1" fill="#bbb"/><rect x="649.5" y="371.1" width="1.1" height="1.1" fill="#999"/><rect x="510.4" y="377.1" width="1.1" height="1.1" fill="#999"/><rect x="652.8" y="583.5" width="1.1" height="1.1" fill="#aaa"/><rect x="500.5" y="515.4" width="1.1" height="1.1" fill="#777"/><rect x="522.3" y="405.1" width="1.1" height="1.1" fill="#888"/><rect x="464.9" y="648.4" width="1.1" height="1.1" fill="#999"/><rect x="647.3" y="427.1" width="1.1" height="1.1" fill="#888"/><rect x="427.8" y="644.6" width="1.1" height="1.1" fill="#999"/><rect x="521.5" y="439.8" width="1.1" height="1.1" fill="#aaa"/><rect x="553.9" y="520.9" width="1.1" height="1.1" fill="#aaa"/><rect x="650.3" y="617.6" width="1.1" height="1.1" fill="#5d6d5d"/><rect x="474.9" y="405.8" width="1.1" height="1.1" fill="#bbb"/><rect x="598.0" y="624.6" width="1.1" height="1.1" fill="#777"/><rect x="576.4" y="441.1" width="1.1" height="1.1" fill="#999"/><rect x="556.9" y="386.9" width="1.1" height="1.1" fill="#777"/><rect x="377.0" y="564.9" width="1.1" height="1.1" fill="#aaa"/><rect x="492.1" y="557.2" width="1.1" height="1.1" fill="#4f6f4f"/><rect x="362.8" y="580.1" width="1.1" height="1.1" fill="#4f6f4f"/><rect x="546.9" y="479.7" width="1.1" height="1.1" fill="#bbb"/><rect x="509.8" y="554.8" width="1.1" height="1.1" fill="#aaa"/><rect x="542.0" y="567.7" width="1.1" height="1.1" fill="#5d6d5d"/><rect x="515.5" y="620.2" width="1.1" height="1.1" fill="#4f6f4f"/><rect x="517.4" y="388.0" width="1.1" height="1.1" fill="#999"/><rect x="407.2" y="430.2" width="1.1" height="1.1" fill="#4f6f4f"/><rect x="616.8" y="620.4" width="1.1" height="1.1" fill="#777"/><rect x="640.3" y="397.5" width="1.1" height="1.1" fill="#666"/><rect x="472.4" y="468.4" width="1.1" height="1.1" fill="#5d6d5d"/><rect x="465.8" y="492.2" width="1.1" height="1.1" fill="#888"/><rect x="614.5" y="513.1" width="1.1" height="1.1" fill="#777"/><rect x="470.0" y="514.1" width="1.1" height="1.1" fill="#999"/><rect x="515.9" y="596.4" width="1.1" height="1.1" fill="#5d6d5d"/><rect x="530.8" y="534.5" width="1.1" height="1.1" fill="#5d6d5d"/><rect x="443.0" y="456.4" width="1.1" height="1.1" fill="#999"/><rect x="510.1" y="613.2" width="1.1" height="1.1" fill="#999"/><rect x="471.4" y="452.1" width="1.1" height="1.1" fill="#777"/><rect x="472.6" y="373.7" width="1.1" height="1.1" fill="#5d6d5d"/><rect x="488.8" y="539.5" width="1.1" height="1.1" fill="#5d6d5d"/><rect x="530.6" y="542.7" width="1.1" height="1.1" fill="#aaa"/><rect x="639.6" y="583.0" width="1.1" height="1.1" fill="#bbb"/><rect x="648.1" y="593.4" width="1.1" height="1.1" fill="#888"/><rect x="493.3" y="489.3" width="1.1" height="1.1" fill="#4f6f4f"/><rect x="466.0" y="511.5" width="1.1" height="1.1" fill="#777"/><rect x="579.5" y="479.2" width="1.1" height="1.1" fill="#777"/><rect x="448.6" y="458.2" width="1.1" height="1.1" fill="#bbb"/><rect x="397.1" y="426.2" width="1.1" height="1.1" fill="#888"/><rect x="499.6" y="582.2" width="1.1" height="1.1" fill="#4f6f4f"/><rect x="615.4" y="575.8" width="1.1" height="1.1" fill="#bbb"/><rect x="403.6" y="480.7" width="1.1" height="1.1" fill="#777"/><rect x="405.1" y="459.5" width="1.1" height="1.1" fill="#777"/><rect x="454.2" y="514.8" width="1.1" height="1.1" fill="#5d6d5d"/><rect x="450.0" y="477.2" width="1.1" height="1.1" fill="#bbb"/><rect x="452.4" y="434.3" width="1.1" height="1.1" fill="#bbb"/><rect x="613.5" y="436.8" width="1.1" height="1.1" fill="#999"/><rect x="555.9" y="497.5" width="1.1" height="1.1" fill="#4f6f4f"/><rect x="403.9" y="634.1" width="1.1" height="1.1" fill="#aaa"/><rect x="576.2" y="525.2" width="1.1" height="1.1" fill="#777"/><rect x="531.3" y="371.8" width="1.1" height="1.1" fill="#999"/><rect x="447.9" y="569.7" width="1.1" height="1.1" fill="#4f6f4f"/><rect x="379.4" y="420.4" width="1.1" height="1.1" fill="#bbb"/><rect x="399.0" y="401.6" width="1.1" height="1.1" fill="#888"/><rect x="508.2" y="365.7" width="1.1" height="1.1" fill="#666"/><rect x="597.5" y="568.2" width="1.1" height="1.1" fill="#666"/><rect x="498.9" y="420.0" width="1.1" height="1.1" fill="#999"/><rect x="641.1" y="483.0" width="1.1" height="1.1" fill="#5d6d5d"/><rect x="492.1" y="485.9" width="1.1" height="1.1" fill="#777"/><rect x="401.6" y="408.4" width="1.1" height="1.1" fill="#4f6f4f"/><rect x="531.3" y="568.6" width="1.1" height="1.1" fill="#666"/><rect x="521.3" y="406.0" width="1.1" height="1.1" fill="#999"/><rect x="465.7" y="446.8" width="1.1" height="1.1" fill="#888"/><rect x="404.9" y="560.4" width="1.1" height="1.1" fill="#888"/><rect x="566.4" y="653.4" width="1.1" height="1.1" fill="#888"/><rect x="600.3" y="622.1" width="1.1" height="1.1" fill="#888"/><rect x="435.4" y="519.9" width="1.1" height="1.1" fill="#888"/><rect x="600.4" y="609.2" width="1.1" height="1.1" fill="#999"/><rect x="531.1" y="644.9" width="1.1" height="1.1" fill="#aaa"/><rect x="434.9" y="459.1" width="1.1" height="1.1" fill="#4f6f4f"/><rect x="455.7" y="592.3" width="1.1" height="1.1" fill="#5d6d5d"/><rect x="574.5" y="494.8" width="1.1" height="1.1" fill="#888"/><rect x="537.0" y="496.7" width="1.1" height="1.1" fill="#777"/><rect x="401.2" y="487.1" width="1.1" height="1.1" fill="#aaa"/><rect x="412.2" y="583.7" width="1.1" height="1.1" fill="#888"/><rect x="451.4" y="620.3" width="1.1" height="1.1" fill="#5d6d5d"/><rect x="441.7" y="396.1" width="1.1" height="1.1" fill="#888"/><rect x="531.0" y="510.0" width="1.1" height="1.1" fill="#aaa"/><rect x="445.6" y="524.2" width="1.1" height="1.1" fill="#666"/><rect x="575.4" y="518.2" width="1.1" height="1.1" fill="#999"/><rect x="366.9" y="637.9" width="1.1" height="1.1" fill="#4f6f4f"/><rect x="568.0" y="423.3" width="1.1" height="1.1" fill="#999"/><rect x="624.8" y="370.6" width="1.1" height="1.1" fill="#bbb"/><rect x="394.6" y="528.5" width="1.1" height="1.1" fill="#888"/><rect x="589.6" y="429.7" width="1.1" height="1.1" fill="#777"/><rect x="383.9" y="460.3" width="1.1" height="1.1" fill="#888"/><rect x="451.5" y="575.7" width="1.1" height="1.1" fill="#888"/><rect x="497.8" y="631.3" width="1.1" height="1.1" fill="#777"/><rect x="388.3" y="602.9" width="1.1" height="1.1" fill="#999"/><rect x="463.4" y="411.7" width="1.1" height="1.1" fill="#666"/><rect x="648.5" y="567.8" width="1.1" height="1.1" fill="#777"/><rect x="503.1" y="507.2" width="1.1" height="1.1" fill="#aaa"/><rect x="582.7" y="548.0" width="1.1" height="1.1" fill="#999"/><rect x="377.2" y="468.6" width="1.1" height="1.1" fill="#bbb"/><rect x="597.9" y="470.1" width="1.1" height="1.1" fill="#4f6f4f"/><rect x="580.9" y="401.0" width="1.1" height="1.1" fill="#5d6d5d"/><rect x="580.8" y="605.4" width="1.1" height="1.1" fill="#666"/><rect x="512.8" y="603.4" width="1.1" height="1.1" fill="#888"/><rect x="608.1" y="602.8" width="1.1" height="1.1" fill="#999"/><rect x="506.8" y="524.7" width="1.1" height="1.1" fill="#777"/><rect x="589.3" y="603.1" width="1.1" height="1.1" fill="#aaa"/><rect x="481.5" y="387.0" width="1.1" height="1.1" fill="#aaa"/><rect x="627.4" y="486.5" width="1.1" height="1.1" fill="#5d6d5d"/><rect x="369.9" y="618.8" width="1.1" height="1.1" fill="#4f6f4f"/><rect x="522.3" y="496.6" width="1.1" height="1.1" fill="#888"/><rect x="460.9" y="542.5" width="1.1" height="1.1" fill="#5d6d5d"/><rect x="599.0" y="487.2" width="1.1" height="1.1" fill="#888"/><rect x="416.4" y="480.3" width="1.1" height="1.1" fill="#5d6d5d"/><rect x="404.7" y="622.2" width="1.1" height="1.1" fill="#bbb"/><rect x="648.0" y="651.1" width="1.1" height="1.1" fill="#999"/><rect x="646.2" y="476.0" width="1.1" height="1.1" fill="#777"/><rect x="420.0" y="598.7" width="1.1" height="1.1" fill="#5d6d5d"/><rect x="560.6" y="650.0" width="1.1" height="1.1" fill="#bbb"/><rect x="384.7" y="441.1" width="1.1" height="1.1" fill="#aaa"/><rect x="570.3" y="469.8" width="1.1" height="1.1" fill="#bbb"/><rect x="599.4" y="379.0" width="1.1" height="1.1" fill="#4f6f4f"/><rect x="607.1" y="377.2" width="1.1" height="1.1" fill="#888"/><rect x="600.0" y="406.1" width="1.1" height="1.1" fill="#4f6f4f"/><rect x="395.0" y="635.9" width="1.1" height="1.1" fill="#5d6d5d"/><rect x="654.8" y="533.0" width="1.1" height="1.1" fill="#666"/><rect x="550.5" y="443.8" width="1.1" height="1.1" fill="#999"/><rect x="481.9" y="487.0" width="1.1" height="1.1" fill="#888"/><rect x="560.7" y="473.0" width="1.1" height="1.1" fill="#aaa"/><rect x="443.8" y="408.9" width="1.1" height="1.1" fill="#4f6f4f"/><rect x="595.0" y="463.2" width="1.1" height="1.1" fill="#666"/><rect x="578.8" y="382.7" width="1.1" height="1.1" fill="#666"/><rect x="628.4" y="533.6" width="1.1" height="1.1" fill="#bbb"/><rect x="468.0" y="564.7" width="1.1" height="1.1" fill="#5d6d5d"/><rect x="634.4" y="420.1" width="1.1" height="1.1" fill="#bbb"/><rect x="465.8" y="593.9" width="1.1" height="1.1" fill="#4f6f4f"/><rect x="545.0" y="606.8" width="1.1" height="1.1" fill="#666"/><rect x="454.7" y="406.1" width="1.1" height="1.1" fill="#4f6f4f"/><rect x="611.0" y="482.1" width="1.1" height="1.1" fill="#888"/><rect x="466.0" y="446.0" width="1.1" height="1.1" fill="#888"/><rect x="567.0" y="383.0" width="1.1" height="1.1" fill="#5d6d5d"/><rect x="622.1" y="441.4" width="1.1" height="1.1" fill="#888"/><rect x="561.2" y="482.4" width="1.1" height="1.1" fill="#888"/><rect x="411.1" y="413.2" width="1.1" height="1.1" fill="#888"/><rect x="478.1" y="637.0" width="1.1" height="1.1" fill="#aaa"/><rect x="448.5" y="415.9" width="1.1" height="1.1" fill="#666"/><rect x="447.1" y="568.4" width="1.1" height="1.1" fill="#999"/><rect x="474.6" y="362.4" width="1.1" height="1.1" fill="#999"/><rect x="531.2" y="591.6" width="1.1" height="1.1" fill="#666"/><rect x="399.1" y="593.7" width="1.1" height="1.1" fill="#5d6d5d"/><rect x="580.2" y="602.0" width="1.1" height="1.1" fill="#bbb"/><rect x="401.0" y="567.8" width="1.1" height="1.1" fill="#bbb"/><rect x="443.1" y="381.2" width="1.1" height="1.1" fill="#5d6d5d"/><rect x="627.3" y="452.1" width="1.1" height="1.1" fill="#aaa"/><rect x="648.1" y="596.5" width="1.1" height="1.1" fill="#aaa"/><rect x="457.8" y="396.7" width="1.1" height="1.1" fill="#777"/><rect x="379.8" y="496.8" width="1.1" height="1.1" fill="#4f6f4f"/><rect x="604.9" y="382.5" width="1.1" height="1.1" fill="#888"/><rect x="449.2" y="517.0" width="1.1" height="1.1" fill="#999"/><rect x="647.9" y="419.8" width="1.1" height="1.1" fill="#777"/><rect x="614.8" y="485.7" width="1.1" height="1.1" fill="#888"/><rect x="442.7" y="387.7" width="1.1" height="1.1" fill="#888"/><rect x="557.8" y="532.9" width="1.1" height="1.1" fill="#777"/><rect x="644.2" y="458.0" width="1.1" height="1.1" fill="#5d6d5d"/><rect x="395.4" y="645.5" width="1.1" height="1.1" fill="#4f6f4f"/><rect x="445.3" y="396.3" width="1.1" height="1.1" fill="#999"/><rect x="420.4" y="377.5" width="1.1" height="1.1" fill="#999"/><rect x="421.4" y="582.9" width="1.1" height="1.1" fill="#5d6d5d"/><rect x="640.4" y="631.0" width="1.1" height="1.1" fill="#777"/><rect x="369.7" y="549.5" width="1.1" height="1.1" fill="#5d6d5d"/><rect x="653.0" y="533.1" width="1.1" height="1.1" fill="#5d6d5d"/><rect x="625.9" y="575.9" width="1.1" height="1.1" fill="#4f6f4f"/><rect x="463.0" y="612.9" width="1.1" height="1.1" fill="#aaa"/><rect x="500.6" y="651.7" width="1.1" height="1.1" fill="#aaa"/><rect x="502.0" y="602.3" width="1.1" height="1.1" fill="#666"/><rect x="517.3" y="435.1" width="1.1" height="1.1" fill="#bbb"/><rect x="369.8" y="418.1" width="1.1" height="1.1" fill="#5d6d5d"/><rect x="649.8" y="489.5" width="1.1" height="1.1" fill="#bbb"/><rect x="366.3" y="486.6" width="1.1" height="1.1" fill="#999"/><rect x="518.2" y="369.6" width="1.1" height="1.1" fill="#888"/><rect x="648.1" y="629.3" width="1.1" height="1.1" fill="#aaa"/><rect x="549.9" y="497.0" width="1.1" height="1.1" fill="#999"/><rect x="455.9" y="392.0" width="1.1" height="1.1" fill="#666"/><rect x="491.4" y="529.1" width="1.1" height="1.1" fill="#4f6f4f"/><rect x="529.6" y="572.2" width="1.1" height="1.1" fill="#4f6f4f"/><rect x="432.8" y="620.2" width="1.1" height="1.1" fill="#4f6f4f"/><rect x="500.7" y="403.0" width="1.1" height="1.1" fill="#4f6f4f"/><rect x="420.3" y="622.0" width="1.1" height="1.1" fill="#777"/><rect x="578.9" y="610.7" width="1.1" height="1.1" fill="#777"/><rect x="373.7" y="420.3" width="1.1" height="1.1" fill="#777"/><rect x="559.4" y="647.7" width="1.1" height="1.1" fill="#bbb"/><rect x="369.4" y="641.7" width="1.1" height="1.1" fill="#888"/><rect x="457.2" y="412.1" width="1.1" height="1.1" fill="#bbb"/><rect x="363.2" y="611.0" width="1.1" height="1.1" fill="#888"/><rect x="520.0" y="543.3" width="1.1" height="1.1" fill="#777"/><rect x="542.7" y="495.4" width="1.1" height="1.1" fill="#777"/><rect x="405.3" y="599.3" width="1.1" height="1.1" fill="#4f6f4f"/><rect x="488.2" y="583.7" width="1.1" height="1.1" fill="#888"/><rect x="387.8" y="513.8" width="1.1" height="1.1" fill="#888"/><rect x="648.3" y="391.2" width="1.1" height="1.1" fill="#aaa"/><rect x="434.9" y="539.2" width="1.1" height="1.1" fill="#aaa"/><rect x="364.5" y="383.5" width="1.1" height="1.1" fill="#888"/><rect x="587.3" y="424.2" width="1.1" height="1.1" fill="#bbb"/><rect x="545.1" y="423.3" width="1.1" height="1.1" fill="#888"/><rect x="607.8" y="571.5" width="1.1" height="1.1" fill="#777"/><rect x="402.1" y="628.5" width="1.1" height="1.1" fill="#777"/><rect x="401.8" y="496.8" width="1.1" height="1.1" fill="#5d6d5d"/><rect x="370.8" y="473.5" width="1.1" height="1.1" fill="#666"/><rect x="501.2" y="553.2" width="1.1" height="1.1" fill="#aaa"/><rect x="475.0" y="461.3" width="1.1" height="1.1" fill="#aaa"/><rect x="458.8" y="587.2" width="1.1" height="1.1" fill="#999"/><rect x="595.3" y="517.4" width="1.1" height="1.1" fill="#888"/><rect x="470.1" y="487.1" width="1.1" height="1.1" fill="#888"/><rect x="409.7" y="517.1" width="1.1" height="1.1" fill="#999"/><rect x="481.9" y="629.2" width="1.1" height="1.1" fill="#888"/><rect x="426.4" y="582.7" width="1.1" height="1.1" fill="#777"/><rect x="488.9" y="396.2" width="1.1" height="1.1" fill="#666"/><rect x="542.5" y="410.3" width="1.1" height="1.1" fill="#5d6d5d"/><rect x="435.3" y="436.8" width="1.1" height="1.1" fill="#777"/><rect x="645.0" y="552.8" width="1.1" height="1.1" fill="#666"/><rect x="537.7" y="565.1" width="1.1" height="1.1" fill="#5d6d5d"/><rect x="468.4" y="524.5" width="1.1" height="1.1" fill="#666"/><rect x="563.9" y="553.5" width="1.1" height="1.1" fill="#5d6d5d"/><rect x="494.4" y="625.2" width="1.1" height="1.1" fill="#5d6d5d"/><rect x="577.7" y="651.4" width="1.1" height="1.1" fill="#888"/><rect x="497.5" y="456.0" width="1.1" height="1.1" fill="#999"/><rect x="423.7" y="429.6" width="1.1" height="1.1" fill="#aaa"/><rect x="443.9" y="364.4" width="1.1" height="1.1" fill="#999"/><rect x="615.0" y="533.5" width="1.1" height="1.1" fill="#5d6d5d"/><rect x="387.6" y="378.3" width="1.1" height="1.1" fill="#5d6d5d"/><rect x="529.4" y="426.9" width="1.1" height="1.1" fill="#888"/><rect x="395.9" y="465.6" width="1.1" height="1.1" fill="#666"/><rect x="411.2" y="440.8" width="1.1" height="1.1" fill="#888"/><rect x="628.9" y="410.1" width="1.1" height="1.1" fill="#bbb"/><rect x="371.3" y="551.5" width="1.1" height="1.1" fill="#999"/><rect x="612.5" y="432.1" width="1.1" height="1.1" fill="#4f6f4f"/><rect x="387.5" y="606.6" width="1.1" height="1.1" fill="#999"/><rect x="499.6" y="496.3" width="1.1" height="1.1" fill="#4f6f4f"/><rect x="500.4" y="628.1" width="1.1" height="1.1" fill="#bbb"/><rect x="383.8" y="491.6" width="1.1" height="1.1" fill="#999"/><rect x="525.1" y="382.5" width="1.1" height="1.1" fill="#999"/><rect x="545.4" y="643.5" width="1.1" height="1.1" fill="#bbb"/><rect x="515.3" y="514.6" width="1.1" height="1.1" fill="#aaa"/><rect x="428.0" y="638.7" width="1.1" height="1.1" fill="#666"/><rect x="448.3" y="443.7" width="1.1" height="1.1" fill="#aaa"/><rect x="415.2" y="505.0" width="1.1" height="1.1" fill="#777"/><rect x="600.3" y="626.0" width="1.1" height="1.1" fill="#4f6f4f"/><rect x="371.9" y="551.5" width="1.1" height="1.1" fill="#4f6f4f"/><rect x="403.3" y="468.3" width="1.1" height="1.1" fill="#bbb"/><rect x="639.6" y="578.4" width="1.1" height="1.1" fill="#aaa"/><rect x="553.2" y="566.5" width="1.1" height="1.1" fill="#777"/><rect x="611.6" y="387.5" width="1.1" height="1.1" fill="#5d6d5d"/><rect x="414.0" y="453.5" width="1.1" height="1.1" fill="#999"/><rect x="480.3" y="560.5" width="1.1" height="1.1" fill="#777"/><rect x="384.0" y="511.4" width="1.1" height="1.1" fill="#4f6f4f"/><rect x="424.7" y="627.0" width="1.1" height="1.1" fill="#999"/><rect x="421.7" y="654.4" width="1.1" height="1.1" fill="#4f6f4f"/><rect x="481.7" y="593.8" width="1.1" height="1.1" fill="#aaa"/><rect x="410.0" y="532.9" width="1.1" height="1.1" fill="#777"/><rect x="527.1" y="543.0" width="1.1" height="1.1" fill="#bbb"/><rect x="387.1" y="483.4" width="1.1" height="1.1" fill="#666"/><rect x="402.1" y="455.6" width="1.1" height="1.1" fill="#777"/><rect x="384.1" y="494.1" width="1.1" height="1.1" fill="#bbb"/><rect x="642.9" y="430.4" width="1.1" height="1.1" fill="#5d6d5d"/><rect x="571.1" y="389.3" width="1.1" height="1.1" fill="#bbb"/><rect x="393.0" y="366.6" width="1.1" height="1.1" fill="#5d6d5d"/><rect x="485.6" y="412.4" width="1.1" height="1.1" fill="#bbb"/><rect x="599.0" y="553.0" width="1.1" height="1.1" fill="#888"/><rect x="510.1" y="596.2" width="1.1" height="1.1" fill="#999"/><rect x="415.7" y="441.0" width="1.1" height="1.1" fill="#5d6d5d"/><rect x="483.2" y="641.7" width="1.1" height="1.1" fill="#5d6d5d"/><rect x="384.0" y="578.7" width="1.1" height="1.1" fill="#4f6f4f"/><rect x="369.3" y="461.1" width="1.1" height="1.1" fill="#666"/><rect x="420.5" y="387.6" width="1.1" height="1.1" fill="#999"/><rect x="395.9" y="429.6" width="1.1" height="1.1" fill="#aaa"/><rect x="455.6" y="426.7" width="1.1" height="1.1" fill="#999"/><rect x="395.6" y="510.9" width="1.1" height="1.1" fill="#bbb"/><rect x="551.9" y="499.1" width="1.1" height="1.1" fill="#4f6f4f"/><rect x="531.5" y="465.7" width="1.1" height="1.1" fill="#bbb"/><rect x="560.6" y="575.5" width="1.1" height="1.1" fill="#666"/><rect x="556.3" y="606.3" width="1.1" height="1.1" fill="#999"/><rect x="569.0" y="644.6" width="1.1" height="1.1" fill="#999"/><rect x="603.2" y="552.8" width="1.1" height="1.1" fill="#4f6f4f"/><rect x="618.9" y="534.0" width="1.1" height="1.1" fill="#999"/><rect x="537.0" y="482.3" width="1.1" height="1.1" fill="#5d6d5d"/><rect x="566.4" y="610.7" width="1.1" height="1.1" fill="#777"/><rect x="648.2" y="650.8" width="1.1" height="1.1" fill="#777"/><rect x="384.5" y="405.0" width="1.1" height="1.1" fill="#aaa"/><rect x="435.2" y="501.8" width="1.1" height="1.1" fill="#5d6d5d"/><rect x="389.3" y="440.6" width="1.1" height="1.1" fill="#777"/><rect x="439.5" y="593.5" width="1.1" height="1.1" fill="#aaa"/><rect x="414.3" y="651.4" width="1.1" height="1.1" fill="#777"/><rect x="608.3" y="485.4" width="1.1" height="1.1" fill="#5d6d5d"/><rect x="429.7" y="595.1" width="1.1" height="1.1" fill="#4f6f4f"/><rect x="495.0" y="420.3" width="1.1" height="1.1" fill="#4f6f4f"/><rect x="430.3" y="388.8" width="1.1" height="1.1" fill="#4f6f4f"/><rect x="414.6" y="424.7" width="1.1" height="1.1" fill="#4f6f4f"/><rect x="475.0" y="458.7" width="1.1" height="1.1" fill="#777"/><rect x="424.5" y="430.0" width="1.1" height="1.1" fill="#4f6f4f"/><rect x="626.7" y="421.5" width="1.1" height="1.1" fill="#5d6d5d"/><rect x="625.8" y="399.9" width="1.1" height="1.1" fill="#777"/><rect x="562.1" y="611.2" width="1.1" height="1.1" fill="#5d6d5d"/><rect x="541.0" y="451.6" width="1.1" height="1.1" fill="#888"/><rect x="419.7" y="634.5" width="1.1" height="1.1" fill="#999"/><rect x="387.6" y="572.0" width="1.1" height="1.1" fill="#aaa"/><rect x="502.1" y="452.6" width="1.1" height="1.1" fill="#888"/><rect x="465.9" y="381.0" width="1.1" height="1.1" fill="#999"/><rect x="588.2" y="648.2" width="1.1" height="1.1" fill="#aaa"/><rect x="543.8" y="584.4" width="1.1" height="1.1" fill="#888"/><rect x="388.2" y="631.8" width="1.1" height="1.1" fill="#666"/><rect x="381.0" y="640.1" width="1.1" height="1.1" fill="#777"/><rect x="600.2" y="461.4" width="1.1" height="1.1" fill="#888"/><rect x="377.5" y="576.5" width="1.1" height="1.1" fill="#5d6d5d"/><rect x="558.9" y="516.8" width="1.1" height="1.1" fill="#888"/><rect x="412.1" y="543.3" width="1.1" height="1.1" fill="#666"/><rect x="398.6" y="575.8" width="1.1" height="1.1" fill="#999"/><rect x="579.5" y="387.4" width="1.1" height="1.1" fill="#bbb"/><rect x="584.8" y="543.3" width="1.1" height="1.1" fill="#bbb"/><rect x="577.6" y="399.5" width="1.1" height="1.1" fill="#999"/><rect x="506.4" y="615.7" width="1.1" height="1.1" fill="#aaa"/><rect x="370.6" y="511.8" width="1.1" height="1.1" fill="#666"/><rect x="542.8" y="453.3" width="1.1" height="1.1" fill="#aaa"/><rect x="555.8" y="378.0" width="1.1" height="1.1" fill="#777"/><rect x="530.9" y="364.6" width="1.1" height="1.1" fill="#5d6d5d"/><rect x="626.0" y="640.4" width="1.1" height="1.1" fill="#aaa"/><rect x="647.8" y="468.7" width="1.1" height="1.1" fill="#aaa"/><rect x="478.1" y="444.7" width="1.1" height="1.1" fill="#999"/><rect x="622.5" y="594.1" width="1.1" height="1.1" fill="#999"/><rect x="551.3" y="376.8" width="1.1" height="1.1" fill="#666"/><rect x="600.7" y="435.7" width="1.1" height="1.1" fill="#aaa"/><rect x="571.5" y="404.7" width="1.1" height="1.1" fill="#777"/><rect x="589.4" y="619.8" width="1.1" height="1.1" fill="#777"/><rect x="609.4" y="648.4" width="1.1" height="1.1" fill="#aaa"/><rect x="590.4" y="424.2" width="1.1" height="1.1" fill="#aaa"/><rect x="387.1" y="369.1" width="1.1" height="1.1" fill="#777"/><rect x="384.0" y="376.9" width="1.1" height="1.1" fill="#4f6f4f"/><rect x="453.7" y="501.2" width="1.1" height="1.1" fill="#bbb"/><rect x="455.8" y="630.1" width="1.1" height="1.1" fill="#aaa"/><rect x="453.8" y="617.6" width="1.1" height="1.1" fill="#888"/><rect x="504.3" y="630.0" width="1.1" height="1.1" fill="#bbb"/><rect x="468.7" y="429.7" width="1.1" height="1.1" fill="#aaa"/><rect x="555.5" y="614.4" width="1.1" height="1.1" fill="#777"/><rect x="488.3" y="377.8" width="1.1" height="1.1" fill="#888"/><rect x="510.3" y="466.0" width="1.1" height="1.1" fill="#999"/><rect x="539.4" y="378.4" width="1.1" height="1.1" fill="#aaa"/><rect x="653.3" y="488.5" width="1.1" height="1.1" fill="#bbb"/><rect x="385.1" y="483.6" width="1.1" height="1.1" fill="#aaa"/><rect x="590.5" y="505.4" width="1.1" height="1.1" fill="#777"/><rect x="404.5" y="641.8" width="1.1" height="1.1" fill="#666"/><rect x="395.6" y="525.4" width="1.1" height="1.1" fill="#aaa"/><rect x="509.5" y="508.7" width="1.1" height="1.1" fill="#999"/><rect x="407.4" y="524.7" width="1.1" height="1.1" fill="#4f6f4f"/><rect x="486.7" y="537.9" width="1.1" height="1.1" fill="#5d6d5d"/><rect x="431.0" y="424.9" width="1.1" height="1.1" fill="#4f6f4f"/><rect x="572.6" y="602.8" width="1.1" height="1.1" fill="#999"/><rect x="624.7" y="538.2" width="1.1" height="1.1" fill="#999"/><rect x="573.9" y="393.7" width="1.1" height="1.1" fill="#4f6f4f"/><rect x="570.7" y="441.4" width="1.1" height="1.1" fill="#bbb"/><rect x="377.9" y="638.1" width="1.1" height="1.1" fill="#4f6f4f"/><rect x="617.0" y="624.5" width="1.1" height="1.1" fill="#bbb"/><rect x="555.7" y="520.6" width="1.1" height="1.1" fill="#bbb"/><rect x="434.3" y="419.8" width="1.1" height="1.1" fill="#666"/><rect x="467.0" y="489.2" width="1.1" height="1.1" fill="#5d6d5d"/><rect x="383.6" y="534.3" width="1.1" height="1.1" fill="#888"/><rect x="500.3" y="586.7" width="1.1" height="1.1" fill="#4f6f4f"/><rect x="509.7" y="534.9" width="1.1" height="1.1" fill="#666"/><rect x="456.2" y="644.8" width="1.1" height="1.1" fill="#bbb"/><rect x="564.9" y="461.9" width="1.1" height="1.1" fill="#bbb"/><rect x="498.8" y="606.0" width="1.1" height="1.1" fill="#777"/><rect x="547.1" y="504.9" width="1.1" height="1.1" fill="#bbb"/><rect x="544.1" y="407.3" width="1.1" height="1.1" fill="#777"/><rect x="405.1" y="468.7" width="1.1" height="1.1" fill="#bbb"/><rect x="535.4" y="559.9" width="1.1" height="1.1" fill="#aaa"/><rect x="408.3" y="523.2" width="1.1" height="1.1" fill="#666"/><rect x="648.3" y="369.3" width="1.1" height="1.1" fill="#aaa"/><rect x="491.7" y="442.0" width="1.1" height="1.1" fill="#777"/><rect x="637.3" y="639.8" width="1.1" height="1.1" fill="#888"/><rect x="545.1" y="612.6" width="1.1" height="1.1" fill="#777"/><rect x="456.3" y="545.6" width="1.1" height="1.1" fill="#777"/><rect x="625.0" y="636.7" width="1.1" height="1.1" fill="#bbb"/><rect x="379.1" y="402.7" width="1.1" height="1.1" fill="#5d6d5d"/><rect x="427.6" y="646.1" width="1.1" height="1.1" fill="#888"/><rect x="523.9" y="631.6" width="1.1" height="1.1" fill="#888"/><rect x="406.0" y="606.9" width="1.1" height="1.1" fill="#777"/><rect x="614.1" y="474.5" width="1.1" height="1.1" fill="#888"/><rect x="570.2" y="414.1" width="1.1" height="1.1" fill="#666"/><rect x="373.7" y="377.9" width="1.1" height="1.1" fill="#888"/><rect x="578.1" y="394.4" width="1.1" height="1.1" fill="#666"/><rect x="456.2" y="645.6" width="1.1" height="1.1" fill="#aaa"/><rect x="436.7" y="461.9" width="1.1" height="1.1" fill="#999"/><rect x="566.2" y="412.8" width="1.1" height="1.1" fill="#666"/><rect x="595.1" y="544.9" width="1.1" height="1.1" fill="#777"/><rect x="491.3" y="629.5" width="1.1" height="1.1" fill="#777"/><rect x="555.9" y="543.1" width="1.1" height="1.1" fill="#666"/><rect x="630.5" y="525.8" width="1.1" height="1.1" fill="#666"/><rect x="363.8" y="412.2" width="1.1" height="1.1" fill="#777"/><rect x="468.6" y="568.2" width="1.1" height="1.1" fill="#999"/><rect x="503.0" y="486.8" width="1.1" height="1.1" fill="#666"/><rect x="428.5" y="423.3" width="1.1" height="1.1" fill="#777"/><rect x="564.1" y="454.8" width="1.1" height="1.1" fill="#5d6d5d"/><rect x="461.2" y="529.6" width="1.1" height="1.1" fill="#4f6f4f"/><rect x="614.0" y="651.2" width="1.1" height="1.1" fill="#4f6f4f"/><rect x="584.3" y="405.2" width="1.1" height="1.1" fill="#888"/><rect x="569.1" y="533.0" width="1.1" height="1.1" fill="#777"/><rect x="619.3" y="396.3" width="1.1" height="1.1" fill="#bbb"/><rect x="494.0" y="440.5" width="1.1" height="1.1" fill="#aaa"/><rect x="589.8" y="380.6" width="1.1" height="1.1" fill="#5d6d5d"/><rect x="510.4" y="653.9" width="1.1" height="1.1" fill="#bbb"/><rect x="565.4" y="551.2" width="1.1" height="1.1" fill="#5d6d5d"/><rect x="566.8" y="480.2" width="1.1" height="1.1" fill="#888"/><rect x="378.2" y="603.2" width="1.1" height="1.1" fill="#666"/><rect x="601.3" y="619.7" width="1.1" height="1.1" fill="#777"/><rect x="384.4" y="623.2" width="1.1" height="1.1" fill="#777"/><rect x="576.1" y="630.2" width="1.1" height="1.1" fill="#aaa"/><rect x="540.9" y="641.8" width="1.1" height="1.1" fill="#888"/><rect x="608.1" y="437.8" width="1.1" height="1.1" fill="#666"/><rect x="428.1" y="505.4" width="1.1" height="1.1" fill="#5d6d5d"/><rect x="427.3" y="627.1" width="1.1" height="1.1" fill="#5d6d5d"/><rect x="588.5" y="546.3" width="1.1" height="1.1" fill="#4f6f4f"/><rect x="500.3" y="561.3" width="1.1" height="1.1" fill="#bbb"/><rect x="625.0" y="418.9" width="1.1" height="1.1" fill="#5d6d5d"/><rect x="623.1" y="524.8" width="1.1" height="1.1" fill="#666"/><rect x="500.1" y="634.9" width="1.1" height="1.1" fill="#aaa"/><rect x="530.8" y="461.9" width="1.1" height="1.1" fill="#888"/><rect x="445.3" y="405.0" width="1.1" height="1.1" fill="#aaa"/><rect x="455.6" y="462.3" width="1.1" height="1.1" fill="#4f6f4f"/><rect x="555.9" y="589.4" width="1.1" height="1.1" fill="#aaa"/><rect x="615.2" y="420.0" width="1.1" height="1.1" fill="#666"/><rect x="570.5" y="451.8" width="1.1" height="1.1" fill="#888"/><rect x="383.7" y="510.2" width="1.1" height="1.1" fill="#888"/><rect x="432.0" y="393.8" width="1.1" height="1.1" fill="#5d6d5d"/><rect x="653.2" y="560.2" width="1.1" height="1.1" fill="#777"/><rect x="454.2" y="388.1" width="1.1" height="1.1" fill="#777"/><rect x="578.1" y="603.0" width="1.1" height="1.1" fill="#777"/><rect x="392.3" y="630.3" width="1.1" height="1.1" fill="#888"/><rect x="560.2" y="515.5" width="1.1" height="1.1" fill="#bbb"/><rect x="566.9" y="387.7" width="1.1" height="1.1" fill="#bbb"/><rect x="487.8" y="440.9" width="1.1" height="1.1" fill="#777"/><rect x="653.7" y="652.6" width="1.1" height="1.1" fill="#bbb"/><rect x="631.8" y="524.6" width="1.1" height="1.1" fill="#aaa"/><rect x="404.7" y="393.8" width="1.1" height="1.1" fill="#888"/><rect x="508.0" y="532.6" width="1.1" height="1.1" fill="#4f6f4f"/><rect x="378.6" y="402.7" width="1.1" height="1.1" fill="#777"/><rect x="607.1" y="430.3" width="1.1" height="1.1" fill="#bbb"/><rect x="378.6" y="557.8" width="1.1" height="1.1" fill="#777"/><rect x="633.6" y="639.5" width="1.1" height="1.1" fill="#999"/><rect x="449.0" y="460.8" width="1.1" height="1.1" fill="#888"/><rect x="510.3" y="492.4" width="1.1" height="1.1" fill="#666"/><rect x="387.5" y="487.2" width="1.1" height="1.1" fill="#666"/><rect x="640.2" y="579.0" width="1.1" height="1.1" fill="#777"/><rect x="378.5" y="579.1" width="1.1" height="1.1" fill="#999"/><rect x="565.7" y="437.4" width="1.1" height="1.1" fill="#4f6f4f"/><rect x="556.4" y="377.8" width="1.1" height="1.1" fill="#888"/><rect x="565.8" y="468.2" width="1.1" height="1.1" fill="#999"/><rect x="484.6" y="429.5" width="1.1" height="1.1" fill="#bbb"/><rect x="378.9" y="651.7" width="1.1" height="1.1" fill="#888"/><rect x="558.8" y="440.6" width="1.1" height="1.1" fill="#4f6f4f"/><rect x="384.4" y="600.2" width="1.1" height="1.1" fill="#4f6f4f"/><rect x="474.6" y="562.4" width="1.1" height="1.1" fill="#666"/><rect x="594.1" y="383.3" width="1.1" height="1.1" fill="#888"/><rect x="378.6" y="639.4" width="1.1" height="1.1" fill="#5d6d5d"/><rect x="605.0" y="469.9" width="1.1" height="1.1" fill="#666"/><rect x="490.8" y="362.6" width="1.1" height="1.1" fill="#888"/><rect x="420.1" y="407.0" width="1.1" height="1.1" fill="#5d6d5d"/><rect x="396.3" y="473.0" width="1.1" height="1.1" fill="#999"/><rect x="455.6" y="451.2" width="1.1" height="1.1" fill="#aaa"/><rect x="581.9" y="525.3" width="1.1" height="1.1" fill="#4f6f4f"/><rect x="551.2" y="639.2" width="1.1" height="1.1" fill="#999"/><rect x="589.8" y="471.0" width="1.1" height="1.1" fill="#999"/><rect x="555.7" y="399.2" width="1.1" height="1.1" fill="#777"/><rect x="448.4" y="411.5" width="1.1" height="1.1" fill="#888"/><rect x="568.7" y="590.3" width="1.1" height="1.1" fill="#4f6f4f"/><rect x="521.9" y="515.0" width="1.1" height="1.1" fill="#5d6d5d"/><rect x="456.5" y="610.8" width="1.1" height="1.1" fill="#999"/><rect x="615.1" y="569.3" width="1.1" height="1.1" fill="#4f6f4f"/><rect x="604.5" y="584.2" width="1.1" height="1.1" fill="#bbb"/><rect x="560.6" y="547.6" width="1.1" height="1.1" fill="#777"/><rect x="455.9" y="489.7" width="1.1" height="1.1" fill="#5d6d5d"/><rect x="429.7" y="460.2" width="1.1" height="1.1" fill="#888"/><rect x="578.5" y="416.0" width="1.1" height="1.1" fill="#888"/><rect x="499.5" y="399.9" width="1.1" height="1.1" fill="#aaa"/><rect x="616.7" y="490.2" width="1.1" height="1.1" fill="#bbb"/><rect x="555.7" y="407.7" width="1.1" height="1.1" fill="#5d6d5d"/><rect x="612.0" y="429.8" width="1.1" height="1.1" fill="#777"/><rect x="600.3" y="510.7" width="1.1" height="1.1" fill="#888"/><rect x="491.3" y="478.0" width="1.1" height="1.1" fill="#5d6d5d"/><rect x="477.3" y="416.0" width="1.1" height="1.1" fill="#777"/><rect x="395.9" y="455.6" width="1.1" height="1.1" fill="#666"/><rect x="545.5" y="416.7" width="1.1" height="1.1" fill="#777"/><rect x="421.2" y="429.8" width="1.1" height="1.1" fill="#999"/><rect x="398.0" y="533.4" width="1.1" height="1.1" fill="#aaa"/><rect x="398.3" y="387.6" width="1.1" height="1.1" fill="#999"/><rect x="626.9" y="639.9" width="1.1" height="1.1" fill="#888"/><rect x="556.4" y="432.9" width="1.1" height="1.1" fill="#999"/><rect x="614.9" y="450.5" width="1.1" height="1.1" fill="#4f6f4f"/><rect x="502.9" y="650.7" width="1.1" height="1.1" fill="#777"/><rect x="497.9" y="537.0" width="1.1" height="1.1" fill="#666"/><rect x="609.3" y="522.2" width="1.1" height="1.1" fill="#bbb"/><rect x="581.6" y="441.2" width="1.1" height="1.1" fill="#888"/><rect x="389.9" y="575.5" width="1.1" height="1.1" fill="#888"/><rect x="475.0" y="446.3" width="1.1" height="1.1" fill="#aaa"/><rect x="517.2" y="411.6" width="1.1" height="1.1" fill="#888"/><rect x="476.0" y="419.7" width="1.1" height="1.1" fill="#aaa"/><rect x="526.4" y="441.8" width="1.1" height="1.1" fill="#888"/><rect x="572.5" y="608.6" width="1.1" height="1.1" fill="#aaa"/><rect x="518.4" y="457.5" width="1.1" height="1.1" fill="#aaa"/><rect x="395.9" y="408.8" width="1.1" height="1.1" fill="#777"/><rect x="468.2" y="479.3" width="1.1" height="1.1" fill="#666"/><rect x="420.4" y="517.2" width="1.1" height="1.1" fill="#aaa"/><rect x="615.0" y="409.7" width="1.1" height="1.1" fill="#aaa"/><rect x="379.6" y="471.9" width="1.1" height="1.1" fill="#aaa"/><rect x="560.5" y="507.1" width="1.1" height="1.1" fill="#4f6f4f"/><rect x="521.2" y="381.3" width="1.1" height="1.1" fill="#666"/><rect x="438.3" y="550.4" width="1.1" height="1.1" fill="#666"/><rect x="588.2" y="554.5" width="1.1" height="1.1" fill="#aaa"/><rect x="543.2" y="576.0" width="1.1" height="1.1" fill="#666"/><rect x="414.2" y="542.2" width="1.1" height="1.1" fill="#999"/><rect x="580.2" y="455.2" width="1.1" height="1.1" fill="#666"/><rect x="469.2" y="492.9" width="1.1" height="1.1" fill="#666"/><rect x="553.8" y="392.7" width="1.1" height="1.1" fill="#777"/><rect x="440.9" y="515.2" width="1.1" height="1.1" fill="#888"/><rect x="543.7" y="514.5" width="1.1" height="1.1" fill="#999"/><rect x="432.4" y="576.0" width="1.1" height="1.1" fill="#666"/><rect x="401.1" y="462.1" width="1.1" height="1.1" fill="#aaa"/><rect x="545.2" y="376.3" width="1.1" height="1.1" fill="#5d6d5d"/><rect x="450.6" y="576.7" width="1.1" height="1.1" fill="#888"/><rect x="652.5" y="490.5" width="1.1" height="1.1" fill="#5d6d5d"/><rect x="379.1" y="428.2" width="1.1" height="1.1" fill="#888"/><rect x="556.2" y="503.3" width="1.1" height="1.1" fill="#666"/><rect x="496.1" y="480.3" width="1.1" height="1.1" fill="#999"/><rect x="427.1" y="440.8" width="1.1" height="1.1" fill="#999"/><rect x="378.6" y="425.2" width="1.1" height="1.1" fill="#aaa"/><rect x="499.5" y="582.3" width="1.1" height="1.1" fill="#aaa"/><rect x="500.2" y="554.3" width="1.1" height="1.1" fill="#bbb"/><rect x="500.7" y="487.4" width="1.1" height="1.1" fill="#999"/><rect x="420.5" y="573.2" width="1.1" height="1.1" fill="#aaa"/><rect x="548.7" y="440.7" width="1.1" height="1.1" fill="#4f6f4f"/><rect x="490.7" y="610.7" width="1.1" height="1.1" fill="#777"/><rect x="451.2" y="593.9" width="1.1" height="1.1" fill="#666"/><rect x="567.8" y="553.4" width="1.1" height="1.1" fill="#666"/><rect x="490.1" y="603.5" width="1.1" height="1.1" fill="#4f6f4f"/><rect x="610.9" y="647.9" width="1.1" height="1.1" fill="#666"/><rect x="551.3" y="404.8" width="1.1" height="1.1" fill="#bbb"/><rect x="405.2" y="607.8" width="1.1" height="1.1" fill="#666"/><rect x="504.9" y="497.1" width="1.1" height="1.1" fill="#888"/><rect x="623.1" y="419.9" width="1.1" height="1.1" fill="#888"/><rect x="600.5" y="546.2" width="1.1" height="1.1" fill="#999"/><rect x="412.9" y="463.1" width="1.1" height="1.1" fill="#888"/><rect x="555.7" y="451.5" width="1.1" height="1.1" fill="#5d6d5d"/><rect x="530.3" y="396.0" width="1.1" height="1.1" fill="#777"/><rect x="427.8" y="386.8" width="1.1" height="1.1" fill="#4f6f4f"/><rect x="492.8" y="432.6" width="1.1" height="1.1" fill="#bbb"/><rect x="369.0" y="581.2" width="1.1" height="1.1" fill="#4f6f4f"/><rect x="591.1" y="653.3" width="1.1" height="1.1" fill="#999"/><rect x="465.9" y="634.3" width="1.1" height="1.1" fill="#bbb"/><rect x="545.4" y="511.6" width="1.1" height="1.1" fill="#4f6f4f"/><rect x="533.9" y="517.0" width="1.1" height="1.1" fill="#4f6f4f"/><rect x="482.0" y="630.4" width="1.1" height="1.1" fill="#777"/><rect x="531.4" y="653.1" width="1.1" height="1.1" fill="#888"/><rect x="647.9" y="364.1" width="1.1" height="1.1" fill="#5d6d5d"/><rect x="547.7" y="608.5" width="1.1" height="1.1" fill="#4f6f4f"/><rect x="618.8" y="488.7" width="1.1" height="1.1" fill="#999"/><rect x="369.6" y="367.9" width="1.1" height="1.1" fill="#4f6f4f"/><rect x="514.8" y="429.3" width="1.1" height="1.1" fill="#888"/><rect x="449.0" y="451.5" width="1.1" height="1.1" fill="#666"/><rect x="450.1" y="388.1" width="1.1" height="1.1" fill="#aaa"/><rect x="543.0" y="548.0" width="1.1" height="1.1" fill="#bbb"/><rect x="397.0" y="497.4" width="1.1" height="1.1" fill="#4f6f4f"/><rect x="474.7" y="489.0" width="1.1" height="1.1" fill="#999"/><rect x="500.1" y="605.4" width="1.1" height="1.1" fill="#bbb"/><rect x="374.9" y="610.6" width="1.1" height="1.1" fill="#4f6f4f"/><rect x="586.0" y="404.9" width="1.1" height="1.1" fill="#5d6d5d"/><rect x="637.5" y="411.9" width="1.1" height="1.1" fill="#999"/><rect x="383.5" y="491.7" width="1.1" height="1.1" fill="#5d6d5d"/><rect x="491.4" y="585.0" width="1.1" height="1.1" fill="#888"/><rect x="394.5" y="449.9" width="1.1" height="1.1" fill="#777"/><rect x="469.2" y="595.4" width="1.1" height="1.1" fill="#888"/><rect x="420.1" y="600.3" width="1.1" height="1.1" fill="#999"/><rect x="383.2" y="446.4" width="1.1" height="1.1" fill="#bbb"/><rect x="376.2" y="462.3" width="1.1" height="1.1" fill="#888"/><rect x="615.4" y="452.1" width="1.1" height="1.1" fill="#888"/><rect x="573.8" y="420.1" width="1.1" height="1.1" fill="#5d6d5d"/><rect x="447.3" y="529.8" width="1.1" height="1.1" fill="#777"/><rect x="549.6" y="452.1" width="1.1" height="1.1" fill="#888"/><rect x="396.2" y="461.7" width="1.1" height="1.1" fill="#5d6d5d"/><rect x="472.0" y="482.3" width="1.1" height="1.1" fill="#5d6d5d"/><rect x="638.9" y="430.5" width="1.1" height="1.1" fill="#5d6d5d"/><rect x="613.4" y="596.4" width="1.1" height="1.1" fill="#666"/><rect x="552.3" y="598.7" width="1.1" height="1.1" fill="#777"/><rect x="564.6" y="411.9" width="1.1" height="1.1" fill="#999"/><rect x="555.6" y="555.1" width="1.1" height="1.1" fill="#888"/><rect x="375.1" y="515.2" width="1.1" height="1.1" fill="#999"/><rect x="477.4" y="562.3" width="1.1" height="1.1" fill="#999"/><rect x="446.2" y="584.5" width="1.1" height="1.1" fill="#bbb"/><rect x="396.0" y="589.3" width="1.1" height="1.1" fill="#4f6f4f"/><rect x="566.2" y="571.0" width="1.1" height="1.1" fill="#666"/><rect x="620.1" y="439.9" width="1.1" height="1.1" fill="#4f6f4f"/><rect x="456.5" y="622.3" width="1.1" height="1.1" fill="#666"/><rect x="558.7" y="411.4" width="1.1" height="1.1" fill="#666"/><rect x="517.8" y="501.7" width="1.1" height="1.1" fill="#888"/><rect x="520.7" y="609.9" width="1.1" height="1.1" fill="#aaa"/><rect x="447.1" y="385.6" width="1.1" height="1.1" fill="#999"/><rect x="474.7" y="498.1" width="1.1" height="1.1" fill="#4f6f4f"/><rect x="472.4" y="361.6" width="1.1" height="1.1" fill="#999"/><rect x="530.6" y="569.5" width="1.1" height="1.1" fill="#888"/><rect x="378.8" y="651.4" width="1.1" height="1.1" fill="#888"/><rect x="535.6" y="545.7" width="1.1" height="1.1" fill="#4f6f4f"/><rect x="498.1" y="405.4" width="1.1" height="1.1" fill="#aaa"/><rect x="578.5" y="591.8" width="1.1" height="1.1" fill="#aaa"/><rect x="562.6" y="602.8" width="1.1" height="1.1" fill="#777"/><rect x="471.2" y="391.4" width="1.1" height="1.1" fill="#aaa"/><rect x="556.6" y="648.1" width="1.1" height="1.1" fill="#bbb"/><rect x="493.0" y="496.8" width="1.1" height="1.1" fill="#aaa"/><rect x="564.3" y="412.9" width="1.1" height="1.1" fill="#888"/><rect x="423.9" y="630.2" width="1.1" height="1.1" fill="#999"/><rect x="449.2" y="492.1" width="1.1" height="1.1" fill="#777"/><rect x="413.3" y="646.2" width="1.1" height="1.1" fill="#666"/><rect x="368.9" y="502.4" width="1.1" height="1.1" fill="#bbb"/><rect x="420.3" y="590.0" width="1.1" height="1.1" fill="#bbb"/><rect x="499.9" y="378.3" width="1.1" height="1.1" fill="#777"/><rect x="460.8" y="486.7" width="1.1" height="1.1" fill="#777"/><rect x="607.6" y="619.9" width="1.1" height="1.1" fill="#4f6f4f"/><rect x="607.7" y="533.2" width="1.1" height="1.1" fill="#aaa"/><rect x="427.9" y="642.4" width="1.1" height="1.1" fill="#4f6f4f"/><rect x="499.6" y="554.5" width="1.1" height="1.1" fill="#4f6f4f"/><rect x="597.0" y="536.8" width="1.1" height="1.1" fill="#888"/><rect x="500.1" y="586.2" width="1.1" height="1.1" fill="#5d6d5d"/><rect x="558.3" y="568.1" width="1.1" height="1.1" fill="#777"/><rect x="624.8" y="434.0" width="1.1" height="1.1" fill="#4f6f4f"/><rect x="600.1" y="376.9" width="1.1" height="1.1" fill="#5d6d5d"/><rect x="622.4" y="532.9" width="1.1" height="1.1" fill="#777"/><rect x="646.3" y="553.2" width="1.1" height="1.1" fill="#4f6f4f"/><rect x="640.0" y="383.2" width="1.1" height="1.1" fill="#777"/><rect x="594.1" y="575.6" width="1.1" height="1.1" fill="#777"/><rect x="410.8" y="438.4" width="1.1" height="1.1" fill="#bbb"/><rect x="581.0" y="571.9" width="1.1" height="1.1" fill="#aaa"/><rect x="404.1" y="597.5" width="1.1" height="1.1" fill="#888"/><rect x="407.5" y="480.5" width="1.1" height="1.1" fill="#4f6f4f"/><rect x="471.1" y="593.8" width="1.1" height="1.1" fill="#5d6d5d"/><rect x="377.9" y="397.3" width="1.1" height="1.1" fill="#777"/><rect x="458.1" y="640.2" width="1.1" height="1.1" fill="#888"/><rect x="435.3" y="373.3" width="1.1" height="1.1" fill="#888"/><rect x="497.2" y="581.5" width="1.1" height="1.1" fill="#4f6f4f"/><rect x="603.0" y="425.0" width="1.1" height="1.1" fill="#666"/><rect x="429.6" y="361.8" width="1.1" height="1.1" fill="#5d6d5d"/><rect x="515.3" y="593.9" width="1.1" height="1.1" fill="#aaa"/><rect x="400.4" y="415.7" width="1.1" height="1.1" fill="#bbb"/><rect x="611.2" y="527.6" width="1.1" height="1.1" fill="#5d6d5d"/><rect x="539.7" y="415.3" width="1.1" height="1.1" fill="#aaa"/><rect x="433.5" y="565.8" width="1.1" height="1.1" fill="#888"/><rect x="369.2" y="390.3" width="1.1" height="1.1" fill="#5d6d5d"/><rect x="561.3" y="597.8" width="1.1" height="1.1" fill="#666"/><rect x="466.4" y="408.9" width="1.1" height="1.1" fill="#888"/><rect x="364.5" y="627.8" width="1.1" height="1.1" fill="#bbb"/><rect x="565.6" y="637.9" width="1.1" height="1.1" fill="#4f6f4f"/><rect x="413.9" y="592.6" width="1.1" height="1.1" fill="#aaa"/><rect x="518.3" y="566.4" width="1.1" height="1.1" fill="#666"/><rect x="382.1" y="484.1" width="1.1" height="1.1" fill="#5d6d5d"/><rect x="425.2" y="456.8" width="1.1" height="1.1" fill="#5d6d5d"/><rect x="473.8" y="603.0" width="1.1" height="1.1" fill="#888"/><rect x="494.2" y="527.6" width="1.1" height="1.1" fill="#bbb"/><rect x="387.0" y="566.9" width="1.1" height="1.1" fill="#666"/><rect x="369.4" y="473.5" width="1.1" height="1.1" fill="#aaa"/><rect x="556.2" y="386.2" width="1.1" height="1.1" fill="#bbb"/><rect x="452.7" y="512.4" width="1.1" height="1.1" fill="#5d6d5d"/><rect x="627.9" y="452.4" width="1.1" height="1.1" fill="#4f6f4f"/><rect x="544.5" y="412.3" width="1.1" height="1.1" fill="#5d6d5d"/><rect x="618.1" y="482.6" width="1.1" height="1.1" fill="#777"/><rect x="605.3" y="504.9" width="1.1" height="1.1" fill="#999"/><rect x="475.2" y="566.0" width="1.1" height="1.1" fill="#888"/><rect x="421.9" y="429.8" width="1.1" height="1.1" fill="#aaa"/><rect x="489.5" y="648.0" width="1.1" height="1.1" fill="#bbb"/><rect x="509.6" y="581.0" width="1.1" height="1.1" fill="#bbb"/><rect x="529.6" y="546.9" width="1.1" height="1.1" fill="#999"/><rect x="535.7" y="520.5" width="1.1" height="1.1" fill="#bbb"/><rect x="500.2" y="372.4" width="1.1" height="1.1" fill="#4f6f4f"/><rect x="379.2" y="378.0" width="1.1" height="1.1" fill="#5d6d5d"/><rect x="623.0" y="430.8" width="1.1" height="1.1" fill="#5d6d5d"/><rect x="577.0" y="524.6" width="1.1" height="1.1" fill="#666"/><rect x="564.4" y="472.9" width="1.1" height="1.1" fill="#5d6d5d"/><rect x="448.9" y="427.2" width="1.1" height="1.1" fill="#777"/><rect x="640.2" y="544.8" width="1.1" height="1.1" fill="#5d6d5d"/><rect x="415.7" y="440.6" width="1.1" height="1.1" fill="#4f6f4f"/><rect x="626.5" y="583.9" width="1.1" height="1.1" fill="#666"/><rect x="381.6" y="480.3" width="1.1" height="1.1" fill="#5d6d5d"/><rect x="559.4" y="517.5" width="1.1" height="1.1" fill="#888"/><rect x="545.3" y="365.3" width="1.1" height="1.1" fill="#4f6f4f"/><rect x="488.8" y="546.8" width="1.1" height="1.1" fill="#aaa"/><rect x="577.7" y="422.6" width="1.1" height="1.1" fill="#aaa"/><rect x="456.3" y="650.3" width="1.1" height="1.1" fill="#bbb"/><rect x="371.2" y="533.4" width="1.1" height="1.1" fill="#bbb"/><rect x="552.2" y="507.4" width="1.1" height="1.1" fill="#bbb"/><rect x="523.7" y="582.9" width="1.1" height="1.1" fill="#4f6f4f"/><rect x="500.1" y="621.9" width="1.1" height="1.1" fill="#aaa"/><rect x="427.8" y="563.2" width="1.1" height="1.1" fill="#666"/><rect x="492.4" y="576.2" width="1.1" height="1.1" fill="#999"/><rect x="405.2" y="419.4" width="1.1" height="1.1" fill="#5d6d5d"/><rect x="435.1" y="575.3" width="1.1" height="1.1" fill="#666"/><rect x="535.1" y="396.3" width="1.1" height="1.1" fill="#888"/><g stroke="#3a6e3a" stroke-width="1.3" stroke-dasharray="1.6,0.9"><line x1="371.7" y1="417.6" x2="376.3" y2="423.2"/><line x1="400" y1="400" x2="404" y2="400.5"/><line x1="411.5" y1="411.5" x2="414" y2="414"/><line x1="479.6" y1="431" x2="481" y2="434.5"/><line x1="481" y1="434.5" x2="482.5" y2="431"/><line x1="368.6" y1="449" x2="368.2" y2="451.5"/><line x1="379" y1="457" x2="381" y2="457.5"/><line x1="438" y1="462.7" x2="439.5" y2="467.2"/><line x1="395" y1="470.6" x2="396" y2="471"/><line x1="445.8" y1="491" x2="447" y2="489.5"/><line x1="504.5" y1="487.5" x2="509" y2="484"/><line x1="491" y1="495.4" x2="497.7" y2="500"/><line x1="377.6" y1="498.8" x2="377.8" y2="500.5"/><line x1="473" y1="400" x2="479.6" y2="400.5"/><line x1="571.6" y1="370.3" x2="575" y2="368"/><line x1="579.6" y1="366.9" x2="580.6" y2="367.5"/><line x1="539.4" y1="376" x2="540" y2="377.5"/><line x1="595.7" y1="378.4" x2="597.5" y2="378"/><line x1="625.5" y1="386.4" x2="629" y2="380.5"/><line x1="629" y1="380.5" x2="633.6" y2="378.4"/><line x1="652" y1="370" x2="654" y2="373.8"/><line x1="596.8" y1="416.3" x2="601" y2="408"/><line x1="601" y1="408" x2="606" y2="399"/><line x1="606" y1="399" x2="610" y2="392"/><line x1="610" y1="392" x2="613" y2="387.6"/><line x1="614" y1="417.4" x2="617.5" y2="422"/><line x1="509.6" y1="430" x2="511" y2="427"/><line x1="511" y1="427" x2="513" y2="424.3"/><line x1="585.4" y1="441.5" x2="593.4" y2="434.6"/><line x1="575" y1="442.7" x2="580" y2="446"/><line x1="580" y1="446" x2="584.2" y2="450.7"/><line x1="559" y1="460" x2="562" y2="456"/><line x1="562" y1="456" x2="565.8" y2="451.8"/><line x1="554.4" y1="479.4" x2="557" y2="472"/><line x1="557" y1="472" x2="560" y2="465.6"/><line x1="545" y1="479.4" x2="549" y2="483"/><line x1="549" y1="483" x2="554.4" y2="484"/><line x1="532.6" y1="484" x2="538.3" y2="489.7"/><line x1="522.2" y1="497.8" x2="525" y2="494"/><line x1="525" y1="494" x2="528" y2="491"/><line x1="522.2" y1="497.8" x2="522.4" y2="503.5"/><line x1="624.4" y1="504.7" x2="624.6" y2="509.3"/><line x1="505" y1="487.4" x2="508.4" y2="484"/><line x1="415.3" y1="538.4" x2="421" y2="533.8"/><line x1="468.3" y1="533.8" x2="471.8" y2="536"/><line x1="460.2" y1="540.7" x2="462.5" y2="544.2"/><line x1="496" y1="554.5" x2="499" y2="549"/><line x1="499" y1="549" x2="501.7" y2="544.2"/><line x1="497.6" y1="561.5" x2="499" y2="555.7"/><line x1="482" y1="570.7" x2="485.6" y2="563.8"/><line x1="463.7" y1="575.3" x2="468.3" y2="571.8"/><line x1="461.4" y1="577.6" x2="463.7" y2="581"/><line x1="434.9" y1="577.6" x2="437.2" y2="574"/><line x1="407.2" y1="580" x2="410.7" y2="583.3"/><line x1="436" y1="588" x2="438.3" y2="584.5"/><line x1="448.7" y1="583.3" x2="452.2" y2="581"/><line x1="430.3" y1="590.3" x2="434.9" y2="594.9"/><line x1="425.7" y1="598.3" x2="429.1" y2="605.2"/><line x1="440.6" y1="611" x2="442.3" y2="607.5"/><line x1="363.5" y1="598.3" x2="365.8" y2="606.4"/><line x1="396.9" y1="629.4" x2="399.2" y2="624.8"/><line x1="393.4" y1="637.5" x2="395.7" y2="634"/><line x1="388.8" y1="645.6" x2="393.4" y2="641"/><line x1="383" y1="638.6" x2="386.5" y2="636.3"/><line x1="485.6" y1="637.5" x2="490.2" y2="639.8"/><line x1="377.3" y1="646.7" x2="383" y2="643.2"/><line x1="367" y1="652.5" x2="369.2" y2="650.2"/><line x1="622.5" y1="514.2" x2="626" y2="505"/><line x1="520" y1="521.1" x2="522.3" y2="515.4"/><line x1="509.6" y1="533.8" x2="516.5" y2="524.6"/><line x1="638.6" y1="543" x2="643.2" y2="538.4"/><line x1="630.6" y1="538.4" x2="632.9" y2="539.6"/><line x1="565" y1="545.3" x2="566" y2="547.6"/><line x1="567.2" y1="607.5" x2="569.5" y2="611"/><line x1="550" y1="611" x2="552.2" y2="613.3"/><line x1="517.7" y1="641" x2="520" y2="638.2"/><line x1="540.7" y1="638.2" x2="543" y2="636.3"/><line x1="548.8" y1="632.9" x2="551" y2="630.6"/></g></g><rect x="362.5" y="361.5" width="293.0" height="293.0" fill="none" stroke="#333" stroke-width="1.3"/><text x="387" y="355.6" font-size="16.3" font-family="Liberation Sans, sans-serif"><tspan font-style="italic">Rauvolfia tetraphylla</tspan> v.1.0 genome</text><text transform="translate(661.6,381) rotate(90)" font-size="16.3" font-family="Liberation Sans, sans-serif"><tspan font-style="italic">Catharanthus roseus</tspan> v.2.1 genome</text>
</svg>
</body></html>
